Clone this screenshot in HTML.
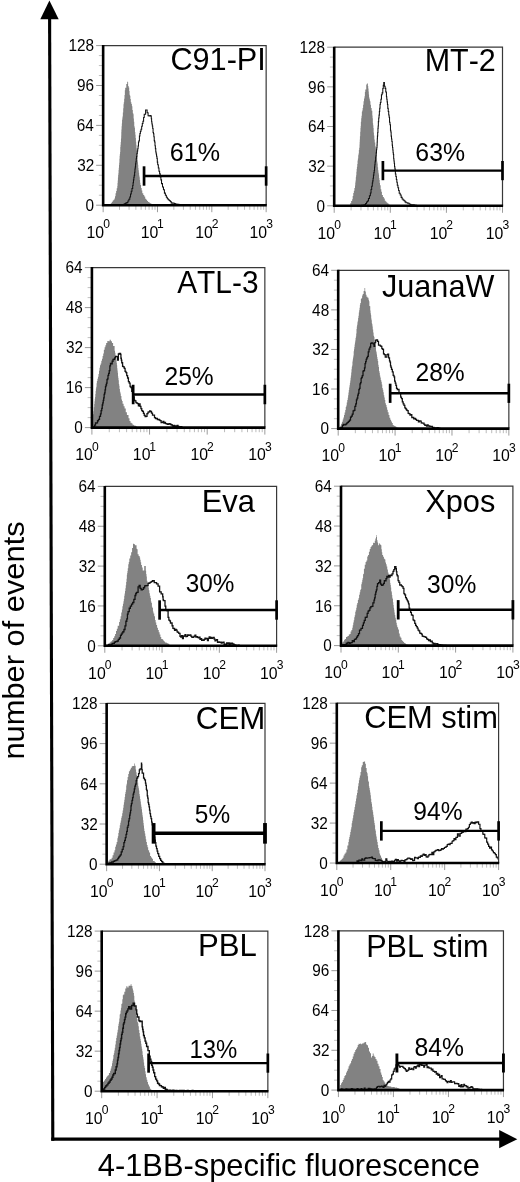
<!DOCTYPE html>
<html><head><meta charset="utf-8"><title>4-1BB flow cytometry</title>
<style>
html,body{margin:0;padding:0;background:#fff;}
body{width:520px;height:1182px;overflow:hidden;font-family:"Liberation Sans",sans-serif;}
svg{display:block;will-change:transform;filter:grayscale(1) blur(0.45px)}
svg text{font-family:"Liberation Sans",sans-serif;font-kerning:none;white-space:pre;}
</style></head><body>
<svg width="520" height="1182" viewBox="0 0 520 1182">
<rect width="520" height="1182" fill="#fff"/>
<g stroke="#000" fill="#000">
<line x1="49.6" y1="17" x2="52.8" y2="1140.8" stroke-width="3.1"/>
<polygon points="49.4,0.6 40.3,19.2 58.7,19.2" stroke="none"/>
<line x1="51.25" y1="1139.15" x2="501" y2="1139.15" stroke-width="3.3"/>
<polygon points="517.3,1139.2 499.2,1130 499.2,1148.2" stroke="none"/>
</g>
<g transform="translate(24,0) rotate(-90)"><text font-size="30" fill="#000" x="-759.55" y="0" textLength="238.16" lengthAdjust="spacingAndGlyphs">number of events</text></g>
<text font-size="31.8" fill="#000" x="97.79" y="1175.6" textLength="382.08" lengthAdjust="spacingAndGlyphs">4-1BB-specific fluorescence</text>
<g>
<path d="M109.6 204.6 L110.4 204.6 L110.4 203.76 L111.2 203.76 L111.2 202.85 L112 202.85 L112 201.74 L112.8 201.74 L112.8 200.39 L113.6 200.39 L113.6 199.74 L114.4 199.74 L114.4 198.55 L114.98 198.55 L114.98 196.21 L115.56 196.21 L115.56 193.14 L116.14 193.14 L116.14 191.02 L116.72 191.02 L116.72 188.23 L117.3 188.23 L117.3 186.06 L117.51 186.06 L117.51 183.05 L117.72 183.05 L117.72 180.54 L117.93 180.54 L117.93 177.6 L118.14 177.6 L118.14 174.91 L118.36 174.91 L118.36 173.14 L118.57 173.14 L118.57 170.07 L118.78 170.07 L118.78 167.67 L118.99 167.67 L118.99 165.01 L119.2 165.01 L119.2 162.65 L119.42 162.65 L119.42 158.64 L119.63 158.64 L119.63 155.72 L119.85 155.72 L119.85 153.93 L120.07 153.93 L120.07 151.91 L120.28 151.91 L120.28 146.9 L120.5 146.9 L120.5 144.63 L120.73 144.63 L120.73 141.99 L120.97 141.99 L120.97 138.45 L121.2 138.45 L121.2 135.43 L121.3 135.43 L121.3 131.97 L121.4 131.97 L121.4 129.38 L121.62 129.38 L121.62 126.14 L121.84 126.14 L121.84 123.56 L122.06 123.56 L122.06 119.96 L122.28 119.96 L122.28 118.51 L122.5 118.51 L122.5 116.56 L122.85 116.56 L122.85 112.42 L123.2 112.42 L123.2 108.34 L123.5 108.34 L123.5 104.31 L123.8 104.31 L123.8 102.23 L124.15 102.23 L124.15 98.86 L124.5 98.86 L124.5 94.98 L124.85 94.98 L124.85 90.25 L125.2 90.25 L125.2 87.81 L126.3 87.81 L126.3 84.11 L127.2 84.11 L127.2 81.78 L128.1 81.78 L128.1 85.95 L128.65 85.95 L128.65 87.58 L129.2 87.58 L129.2 90.95 L129.55 90.95 L129.55 94.83 L129.9 94.83 L129.9 95.83 L130.35 95.83 L130.35 99.08 L130.8 99.08 L130.8 102.31 L131.35 102.31 L131.35 104.07 L131.9 104.07 L131.9 106.14 L132.37 106.14 L132.37 110.12 L132.83 110.12 L132.83 113.24 L133.3 113.24 L133.3 114.14 L133.6 114.14 L133.6 118.47 L133.9 118.47 L133.9 121.72 L134.25 121.72 L134.25 126.2 L134.6 126.2 L134.6 127.76 L134.95 127.76 L134.95 131.99 L135.3 131.99 L135.3 134.69 L135.6 134.69 L135.6 138.11 L135.9 138.11 L135.9 141.82 L136.2 141.82 L136.2 144.75 L136.5 144.75 L136.5 148.36 L136.8 148.36 L136.8 151.58 L137.04 151.58 L137.04 153.77 L137.29 153.77 L137.29 157.52 L137.53 157.52 L137.53 160.33 L137.77 160.33 L137.77 162.23 L138.01 162.23 L138.01 164.66 L138.26 164.66 L138.26 167.93 L138.5 167.93 L138.5 170.16 L138.82 170.16 L138.82 172.63 L139.13 172.63 L139.13 175.43 L139.45 175.43 L139.45 177.35 L139.77 177.35 L139.77 179.94 L140.08 179.94 L140.08 182.83 L140.4 182.83 L140.4 185.01 L141.03 185.01 L141.03 187.94 L141.67 187.94 L141.67 190.57 L142.3 190.57 L142.3 193.23 L143.27 193.23 L143.27 195.11 L144.23 195.11 L144.23 196.52 L145.2 196.52 L145.2 198.74 L146.15 198.74 L146.15 199.83 L147.1 199.83 L147.1 200.96 L148.05 200.96 L148.05 201.93 L149 201.93 L149 202.62 L149.97 202.62 L149.97 203.27 L150.93 203.27 L150.93 203.75 L151.9 203.75 L151.9 204.6 L151.9 205.2 L109.6 205.2 Z" fill="#828282"/>
<path d="M123.08 204.62 L124.04 204.62 L124.04 204.05 L125 204.05 L125 203.47 L125.96 203.47 L125.96 202.86 L126.92 202.86 L126.92 202.6 L127.88 202.6 L127.88 200.98 L128.85 200.98 L128.85 199.2 L129.81 199.2 L129.81 196.98 L130.53 196.98 L130.53 193.98 L131.25 193.98 L131.25 191.22 L131.97 191.22 L131.97 188.47 L132.69 188.47 L132.69 185.52 L133.08 185.52 L133.08 182.79 L133.46 182.79 L133.46 179.89 L133.85 179.89 L133.85 177.17 L134.23 177.17 L134.23 175.39 L134.62 175.39 L134.62 172.28 L134.94 172.28 L134.94 168.97 L135.26 168.97 L135.26 167.08 L135.58 167.08 L135.58 163.86 L135.9 163.86 L135.9 161.73 L136.22 161.73 L136.22 158.83 L136.54 158.83 L136.54 156.62 L136.92 156.62 L136.92 153.54 L137.31 153.54 L137.31 150.98 L137.69 150.98 L137.69 148.66 L138.08 148.66 L138.08 146.04 L138.46 146.04 L138.46 142.07 L138.94 142.07 L138.94 140.82 L139.42 140.82 L139.42 136.07 L139.9 136.07 L139.9 133.52 L140.38 133.52 L140.38 131.18 L141.03 131.18 L141.03 129.24 L141.67 129.24 L141.67 126.32 L142.31 126.32 L142.31 123.46 L142.95 123.46 L142.95 121.26 L143.59 121.26 L143.59 117.43 L144.23 117.43 L144.23 114.16 L145.58 114.16 L145.58 109.96 L147.12 109.96 L147.12 112.75 L148.08 112.75 L148.08 115.68 L149.04 115.68 L149.04 116.02 L150 116.02 L150 115.63 L150.96 115.63 L150.96 116.16 L151.28 116.16 L151.28 118.81 L151.6 118.81 L151.6 121.74 L151.92 121.74 L151.92 124.09 L152.31 124.09 L152.31 126.02 L152.69 126.02 L152.69 128.59 L153.08 128.59 L153.08 132.56 L153.46 132.56 L153.46 133.8 L153.85 133.8 L153.85 136.82 L154.23 136.82 L154.23 140.63 L154.62 140.63 L154.62 141.92 L155 141.92 L155 145.66 L155.38 145.66 L155.38 148.61 L155.77 148.61 L155.77 151.95 L156.15 151.95 L156.15 154.09 L156.54 154.09 L156.54 156.24 L156.92 156.24 L156.92 158.38 L157.31 158.38 L157.31 162.14 L157.69 162.14 L157.69 164.76 L158.33 164.76 L158.33 168.08 L158.97 168.08 L158.97 171.25 L159.62 171.25 L159.62 173.86 L160.26 173.86 L160.26 176.93 L160.9 176.93 L160.9 179.89 L161.54 179.89 L161.54 183.6 L162.5 183.6 L162.5 186.92 L163.46 186.92 L163.46 189.69 L164.42 189.69 L164.42 193.14 L165.38 193.14 L165.38 195.26 L166.35 195.26 L166.35 197.32 L167.31 197.32 L167.31 198.67 L168.27 198.67 L168.27 199.75 L169.23 199.75 L169.23 200.55 L170.19 200.55 L170.19 201.51 L171.15 201.51 L171.15 202.88 L171.98 202.88 L171.98 203.12 L172.8 203.12 L172.8 203.04 L173.63 203.04 L173.63 203.3 L174.45 203.3 L174.45 203.45 L175.27 203.45 L175.27 204.13 L176.1 204.13 L176.1 203.92 L176.92 203.92 L176.92 204.19 L177.88 204.19 L177.88 204.22 L178.85 204.22 L178.85 204.5 L179.81 204.5 L179.81 204.47 L180.77 204.47 L180.77 204.62" fill="none" stroke="#111" stroke-width="1.05"/>
<path d="M103.15 45.6 H266.15 V205.2" fill="none" stroke="#383838" stroke-width="1.2"/>
<line x1="96.15" y1="45.6" x2="103.15" y2="45.6" stroke="#9a9a9a"/>
<line x1="98.85" y1="55.58" x2="103.15" y2="55.58" stroke="#c2c2c2"/>
<line x1="98.85" y1="65.55" x2="103.15" y2="65.55" stroke="#c2c2c2"/>
<line x1="98.85" y1="75.53" x2="103.15" y2="75.53" stroke="#c2c2c2"/>
<line x1="96.15" y1="85.5" x2="103.15" y2="85.5" stroke="#9a9a9a"/>
<line x1="98.85" y1="95.47" x2="103.15" y2="95.47" stroke="#c2c2c2"/>
<line x1="98.85" y1="105.45" x2="103.15" y2="105.45" stroke="#c2c2c2"/>
<line x1="98.85" y1="115.43" x2="103.15" y2="115.43" stroke="#c2c2c2"/>
<line x1="96.15" y1="125.4" x2="103.15" y2="125.4" stroke="#9a9a9a"/>
<line x1="98.85" y1="135.38" x2="103.15" y2="135.38" stroke="#c2c2c2"/>
<line x1="98.85" y1="145.35" x2="103.15" y2="145.35" stroke="#c2c2c2"/>
<line x1="98.85" y1="155.32" x2="103.15" y2="155.32" stroke="#c2c2c2"/>
<line x1="96.15" y1="165.3" x2="103.15" y2="165.3" stroke="#9a9a9a"/>
<line x1="98.85" y1="175.27" x2="103.15" y2="175.27" stroke="#c2c2c2"/>
<line x1="98.85" y1="185.25" x2="103.15" y2="185.25" stroke="#c2c2c2"/>
<line x1="98.85" y1="195.22" x2="103.15" y2="195.22" stroke="#c2c2c2"/>
<line x1="96.15" y1="205.2" x2="103.15" y2="205.2" stroke="#9a9a9a"/>
<line x1="103.15" y1="205.2" x2="103.15" y2="212.2" stroke="#9c9c9c"/>
<line x1="119.51" y1="205.2" x2="119.51" y2="209.8" stroke="#bcbcbc"/>
<line x1="129.07" y1="205.2" x2="129.07" y2="209.8" stroke="#bcbcbc"/>
<line x1="135.86" y1="205.2" x2="135.86" y2="209.8" stroke="#bcbcbc"/>
<line x1="141.13" y1="205.2" x2="141.13" y2="209.8" stroke="#bcbcbc"/>
<line x1="145.43" y1="205.2" x2="145.43" y2="209.8" stroke="#bcbcbc"/>
<line x1="149.07" y1="205.2" x2="149.07" y2="209.8" stroke="#bcbcbc"/>
<line x1="152.22" y1="205.2" x2="152.22" y2="209.8" stroke="#bcbcbc"/>
<line x1="155" y1="205.2" x2="155" y2="209.8" stroke="#bcbcbc"/>
<line x1="157.48" y1="205.2" x2="157.48" y2="212.2" stroke="#9c9c9c"/>
<line x1="173.84" y1="205.2" x2="173.84" y2="209.8" stroke="#bcbcbc"/>
<line x1="183.41" y1="205.2" x2="183.41" y2="209.8" stroke="#bcbcbc"/>
<line x1="190.2" y1="205.2" x2="190.2" y2="209.8" stroke="#bcbcbc"/>
<line x1="195.46" y1="205.2" x2="195.46" y2="209.8" stroke="#bcbcbc"/>
<line x1="199.76" y1="205.2" x2="199.76" y2="209.8" stroke="#bcbcbc"/>
<line x1="203.4" y1="205.2" x2="203.4" y2="209.8" stroke="#bcbcbc"/>
<line x1="206.55" y1="205.2" x2="206.55" y2="209.8" stroke="#bcbcbc"/>
<line x1="209.33" y1="205.2" x2="209.33" y2="209.8" stroke="#bcbcbc"/>
<line x1="211.82" y1="205.2" x2="211.82" y2="212.2" stroke="#9c9c9c"/>
<line x1="228.17" y1="205.2" x2="228.17" y2="209.8" stroke="#bcbcbc"/>
<line x1="237.74" y1="205.2" x2="237.74" y2="209.8" stroke="#bcbcbc"/>
<line x1="244.53" y1="205.2" x2="244.53" y2="209.8" stroke="#bcbcbc"/>
<line x1="249.79" y1="205.2" x2="249.79" y2="209.8" stroke="#bcbcbc"/>
<line x1="254.1" y1="205.2" x2="254.1" y2="209.8" stroke="#bcbcbc"/>
<line x1="257.73" y1="205.2" x2="257.73" y2="209.8" stroke="#bcbcbc"/>
<line x1="260.88" y1="205.2" x2="260.88" y2="209.8" stroke="#bcbcbc"/>
<line x1="263.66" y1="205.2" x2="263.66" y2="209.8" stroke="#bcbcbc"/>
<line x1="266.15" y1="205.2" x2="266.15" y2="212.2" stroke="#9c9c9c"/>
<path d="M103.15 45.1 V205.2 H266.75" fill="none" stroke="#000" stroke-width="2.6"/>
<text font-size="16.5" fill="#000" x="68.51" y="51.35" textLength="25.6" lengthAdjust="spacingAndGlyphs">128</text>
<text font-size="16.5" fill="#000" x="77.06" y="91.25" textLength="17.07" lengthAdjust="spacingAndGlyphs">96</text>
<text font-size="16.5" fill="#000" x="76.83" y="131.15" textLength="17.07" lengthAdjust="spacingAndGlyphs">64</text>
<text font-size="16.5" fill="#000" x="77.15" y="171.05" textLength="17.07" lengthAdjust="spacingAndGlyphs">32</text>
<text font-size="16.5" fill="#000" x="85.52" y="210.95" textLength="8.53" lengthAdjust="spacingAndGlyphs">0</text>
<text font-size="17.2" fill="#000" x="86.47" y="238" textLength="17.6" lengthAdjust="spacingAndGlyphs">10</text>
<text font-size="12.75" fill="#000" x="103.18" y="228.1" textLength="6.74" lengthAdjust="spacingAndGlyphs">0</text>
<text font-size="17.2" fill="#000" x="140.8" y="238" textLength="17.6" lengthAdjust="spacingAndGlyphs">10</text>
<text font-size="12.75" fill="#000" x="157.06" y="228.1" textLength="6.74" lengthAdjust="spacingAndGlyphs">1</text>
<text font-size="17.2" fill="#000" x="195.13" y="238" textLength="17.6" lengthAdjust="spacingAndGlyphs">10</text>
<text font-size="12.75" fill="#000" x="211.71" y="228.1" textLength="6.74" lengthAdjust="spacingAndGlyphs">2</text>
<text font-size="17.2" fill="#000" x="249.47" y="238" textLength="17.6" lengthAdjust="spacingAndGlyphs">10</text>
<text font-size="12.75" fill="#000" x="266.19" y="228.1" textLength="6.74" lengthAdjust="spacingAndGlyphs">3</text>
<g stroke="#000" fill="none">
<line x1="144.05" y1="176" x2="266.15" y2="176" stroke-width="2.4"/>
<line x1="144.05" y1="166.3" x2="144.05" y2="185.7" stroke-width="2.7"/>
<line x1="266.15" y1="166.3" x2="266.15" y2="185.7" stroke-width="2.7"/>
</g>
<text font-size="32" fill="#000" x="170.44" y="70" textLength="95.38" lengthAdjust="spacingAndGlyphs">C91-PI</text>
<text font-size="26" fill="#000" x="169.72" y="160.8" textLength="50.27" lengthAdjust="spacingAndGlyphs">61%</text>
</g>
<g>
<path d="M349.23 205.58 L350.19 205.58 L350.19 203.21 L351.15 203.21 L351.15 201.02 L352.12 201.02 L352.12 199.37 L352.69 199.37 L352.69 196.03 L353.27 196.03 L353.27 193.08 L353.85 193.08 L353.85 190.85 L354.42 190.85 L354.42 188.12 L355 188.12 L355 185.59 L355.27 185.59 L355.27 182.52 L355.55 182.52 L355.55 180.38 L355.82 180.38 L355.82 177.36 L356.1 177.36 L356.1 175.32 L356.37 175.32 L356.37 171.87 L356.65 171.87 L356.65 169.01 L356.92 169.01 L356.92 166.73 L357.25 166.73 L357.25 163.88 L357.57 163.88 L357.57 160.54 L357.9 160.54 L357.9 158.58 L358.22 158.58 L358.22 155.27 L358.54 155.27 L358.54 153.51 L358.87 153.51 L358.87 150.01 L359.19 150.01 L359.19 147.82 L359.52 147.82 L359.52 144.6 L359.65 144.6 L359.65 142.03 L359.78 142.03 L359.78 139.47 L359.92 139.47 L359.92 136.22 L360.19 136.22 L360.19 131.84 L360.46 131.84 L360.46 128.05 L360.66 128.05 L360.66 125.92 L360.86 125.92 L360.86 121.69 L361.2 121.69 L361.2 118.26 L361.53 118.26 L361.53 115.85 L361.87 115.85 L361.87 111.87 L362.21 111.87 L362.21 110.56 L362.66 110.56 L362.66 108.07 L363.1 108.07 L363.1 104.64 L363.55 104.64 L363.55 101.27 L364.02 101.27 L364.02 98.4 L364.5 98.4 L364.5 96.35 L364.9 96.35 L364.9 91.99 L365.3 91.99 L365.3 89.47 L366.24 89.47 L366.24 84.48 L366.92 84.48 L366.92 83.47 L367.86 83.47 L367.86 85.94 L368.2 85.94 L368.2 88.58 L368.53 88.58 L368.53 91.41 L368.8 91.41 L368.8 94.52 L369.07 94.52 L369.07 97.46 L369.48 97.46 L369.48 99.13 L369.88 99.13 L369.88 101.24 L370.42 101.24 L370.42 104.82 L370.96 104.82 L370.96 108.01 L371.63 108.01 L371.63 110.65 L372.3 110.65 L372.3 115.39 L372.57 115.39 L372.57 118.26 L372.84 118.26 L372.84 123.26 L373.11 123.26 L373.11 125.14 L373.38 125.14 L373.38 128.01 L373.65 128.01 L373.65 132.44 L373.92 132.44 L373.92 135.57 L374.32 135.57 L374.32 139.41 L374.72 139.41 L374.72 142.39 L375.26 142.39 L375.26 145.96 L375.56 145.96 L375.56 147.35 L375.85 147.35 L375.85 150.5 L376.14 150.5 L376.14 152.87 L376.44 152.87 L376.44 155.55 L376.73 155.55 L376.73 157.74 L377.07 157.74 L377.07 161.62 L377.4 161.62 L377.4 163.56 L377.74 163.56 L377.74 167.27 L378.08 167.27 L378.08 170.18 L378.4 170.18 L378.4 172.72 L378.72 172.72 L378.72 174.57 L379.04 174.57 L379.04 177.98 L379.36 177.98 L379.36 180.03 L379.68 180.03 L379.68 182.95 L380 182.95 L380 185.28 L380.64 185.28 L380.64 189.16 L381.28 189.16 L381.28 191.65 L381.92 191.65 L381.92 194.95 L382.88 194.95 L382.88 197 L383.85 197 L383.85 198.5 L384.81 198.5 L384.81 200.67 L385.77 200.67 L385.77 201.69 L386.73 201.69 L386.73 202.75 L387.69 202.75 L387.69 203.58 L388.65 203.58 L388.65 204.51 L389.62 204.51 L389.62 204.92 L390.58 204.92 L390.58 205.23 L391.54 205.23 L391.54 205.58 L391.54 205.8 L349.23 205.8 Z" fill="#828282"/>
<path d="M360.77 205.58 L361.73 205.58 L361.73 205.34 L362.69 205.34 L362.69 205.17 L363.65 205.17 L363.65 205.13 L364.62 205.13 L364.62 204.89 L365.58 204.89 L365.58 203.48 L366.54 203.48 L366.54 201.94 L367.5 201.94 L367.5 201.04 L368.46 201.04 L368.46 198.4 L369.42 198.4 L369.42 195.67 L370.38 195.67 L370.38 193.05 L371.03 193.05 L371.03 189.5 L371.67 189.5 L371.67 186.23 L372.31 186.23 L372.31 183.07 L372.69 183.07 L372.69 180.88 L373.08 180.88 L373.08 178.16 L373.46 178.16 L373.46 175.14 L373.85 175.14 L373.85 172.61 L374.23 172.61 L374.23 170.55 L374.51 170.55 L374.51 167.04 L374.79 167.04 L374.79 164.84 L375.07 164.84 L375.07 162 L375.34 162 L375.34 160.86 L375.62 160.86 L375.62 157.34 L375.9 157.34 L375.9 155.66 L376.18 155.66 L376.18 152.86 L376.46 152.86 L376.46 149.69 L376.73 149.69 L376.73 147.81 L377.01 147.81 L377.01 145.11 L377.15 145.11 L377.15 142.12 L377.28 142.12 L377.28 138.83 L377.42 138.83 L377.42 135.93 L377.69 135.93 L377.69 132.56 L377.95 132.56 L377.95 128.4 L378.16 128.4 L378.16 125.95 L378.36 125.95 L378.36 121.63 L378.69 121.63 L378.69 117.92 L379.03 117.92 L379.03 115.14 L379.37 115.14 L379.37 111.42 L379.7 111.42 L379.7 108.2 L380.04 108.2 L380.04 104.52 L380.38 104.52 L380.38 102.55 L380.92 102.55 L380.92 99.22 L381.45 99.22 L381.45 94.72 L382.13 94.72 L382.13 92.87 L382.8 92.87 L382.8 88.4 L383.27 88.4 L383.27 85.31 L383.74 85.31 L383.74 82.52 L384.41 82.52 L384.41 86.25 L385.09 86.25 L385.09 88.39 L385.76 88.39 L385.76 92.04 L386.43 92.04 L386.43 96.79 L386.77 96.79 L386.77 99.26 L387.11 99.26 L387.11 101.87 L387.44 101.87 L387.44 104.53 L387.78 104.53 L387.78 108.38 L388.25 108.38 L388.25 111.55 L388.72 111.55 L388.72 114.98 L389.13 114.98 L389.13 117.23 L389.53 117.23 L389.53 122.21 L390 122.21 L390 124.81 L390.47 124.81 L390.47 130.15 L390.81 130.15 L390.81 132.07 L391.14 132.07 L391.14 136.1 L391.5 136.1 L391.5 138.9 L391.86 138.9 L391.86 141.45 L392.22 141.45 L392.22 145.11 L392.51 145.11 L392.51 147.41 L392.8 147.41 L392.8 150.06 L393.08 150.06 L393.08 152.84 L393.37 152.84 L393.37 154.59 L393.66 154.59 L393.66 158.73 L393.95 158.73 L393.95 160.97 L394.23 160.97 L394.23 163.29 L394.52 163.29 L394.52 166.54 L394.81 166.54 L394.81 168.22 L395.1 168.22 L395.1 170.27 L395.38 170.27 L395.38 173.94 L395.87 173.94 L395.87 176.43 L396.35 176.43 L396.35 179.59 L396.83 179.59 L396.83 182.32 L397.31 182.32 L397.31 185.31 L397.95 185.31 L397.95 187.66 L398.59 187.66 L398.59 190.49 L399.23 190.49 L399.23 193.27 L400.19 193.27 L400.19 195.09 L401.15 195.09 L401.15 197.35 L402.12 197.35 L402.12 198.99 L403.08 198.99 L403.08 199.9 L404.04 199.9 L404.04 200.82 L405 200.82 L405 201.85 L405.96 201.85 L405.96 202.66 L406.76 202.66 L406.76 202.73 L407.56 202.73 L407.56 203.1 L408.37 203.1 L408.37 203.26 L409.17 203.26 L409.17 203.92 L409.97 203.92 L409.97 204.31 L410.77 204.31 L410.77 204.68 L411.59 204.68 L411.59 204.91 L412.42 204.91 L412.42 204.83 L413.24 204.83 L413.24 204.79 L414.07 204.79 L414.07 205.1 L414.89 205.1 L414.89 205.3 L415.71 205.3 L415.71 205.31 L416.54 205.31 L416.54 205.58" fill="none" stroke="#111" stroke-width="1.05"/>
<path d="M334.2 47.2 H502.5 V205.8" fill="none" stroke="#383838" stroke-width="1.2"/>
<line x1="327.2" y1="47.2" x2="334.2" y2="47.2" stroke="#9a9a9a"/>
<line x1="329.9" y1="57.11" x2="334.2" y2="57.11" stroke="#c2c2c2"/>
<line x1="329.9" y1="67.03" x2="334.2" y2="67.03" stroke="#c2c2c2"/>
<line x1="329.9" y1="76.94" x2="334.2" y2="76.94" stroke="#c2c2c2"/>
<line x1="327.2" y1="86.85" x2="334.2" y2="86.85" stroke="#9a9a9a"/>
<line x1="329.9" y1="96.76" x2="334.2" y2="96.76" stroke="#c2c2c2"/>
<line x1="329.9" y1="106.68" x2="334.2" y2="106.68" stroke="#c2c2c2"/>
<line x1="329.9" y1="116.59" x2="334.2" y2="116.59" stroke="#c2c2c2"/>
<line x1="327.2" y1="126.5" x2="334.2" y2="126.5" stroke="#9a9a9a"/>
<line x1="329.9" y1="136.41" x2="334.2" y2="136.41" stroke="#c2c2c2"/>
<line x1="329.9" y1="146.33" x2="334.2" y2="146.33" stroke="#c2c2c2"/>
<line x1="329.9" y1="156.24" x2="334.2" y2="156.24" stroke="#c2c2c2"/>
<line x1="327.2" y1="166.15" x2="334.2" y2="166.15" stroke="#9a9a9a"/>
<line x1="329.9" y1="176.06" x2="334.2" y2="176.06" stroke="#c2c2c2"/>
<line x1="329.9" y1="185.98" x2="334.2" y2="185.98" stroke="#c2c2c2"/>
<line x1="329.9" y1="195.89" x2="334.2" y2="195.89" stroke="#c2c2c2"/>
<line x1="327.2" y1="205.8" x2="334.2" y2="205.8" stroke="#9a9a9a"/>
<line x1="334.2" y1="205.8" x2="334.2" y2="212.8" stroke="#9c9c9c"/>
<line x1="351.09" y1="205.8" x2="351.09" y2="210.4" stroke="#bcbcbc"/>
<line x1="360.97" y1="205.8" x2="360.97" y2="210.4" stroke="#bcbcbc"/>
<line x1="367.98" y1="205.8" x2="367.98" y2="210.4" stroke="#bcbcbc"/>
<line x1="373.41" y1="205.8" x2="373.41" y2="210.4" stroke="#bcbcbc"/>
<line x1="377.85" y1="205.8" x2="377.85" y2="210.4" stroke="#bcbcbc"/>
<line x1="381.61" y1="205.8" x2="381.61" y2="210.4" stroke="#bcbcbc"/>
<line x1="384.86" y1="205.8" x2="384.86" y2="210.4" stroke="#bcbcbc"/>
<line x1="387.73" y1="205.8" x2="387.73" y2="210.4" stroke="#bcbcbc"/>
<line x1="390.3" y1="205.8" x2="390.3" y2="212.8" stroke="#9c9c9c"/>
<line x1="407.19" y1="205.8" x2="407.19" y2="210.4" stroke="#bcbcbc"/>
<line x1="417.07" y1="205.8" x2="417.07" y2="210.4" stroke="#bcbcbc"/>
<line x1="424.08" y1="205.8" x2="424.08" y2="210.4" stroke="#bcbcbc"/>
<line x1="429.51" y1="205.8" x2="429.51" y2="210.4" stroke="#bcbcbc"/>
<line x1="433.95" y1="205.8" x2="433.95" y2="210.4" stroke="#bcbcbc"/>
<line x1="437.71" y1="205.8" x2="437.71" y2="210.4" stroke="#bcbcbc"/>
<line x1="440.96" y1="205.8" x2="440.96" y2="210.4" stroke="#bcbcbc"/>
<line x1="443.83" y1="205.8" x2="443.83" y2="210.4" stroke="#bcbcbc"/>
<line x1="446.4" y1="205.8" x2="446.4" y2="212.8" stroke="#9c9c9c"/>
<line x1="463.29" y1="205.8" x2="463.29" y2="210.4" stroke="#bcbcbc"/>
<line x1="473.17" y1="205.8" x2="473.17" y2="210.4" stroke="#bcbcbc"/>
<line x1="480.18" y1="205.8" x2="480.18" y2="210.4" stroke="#bcbcbc"/>
<line x1="485.61" y1="205.8" x2="485.61" y2="210.4" stroke="#bcbcbc"/>
<line x1="490.05" y1="205.8" x2="490.05" y2="210.4" stroke="#bcbcbc"/>
<line x1="493.81" y1="205.8" x2="493.81" y2="210.4" stroke="#bcbcbc"/>
<line x1="497.06" y1="205.8" x2="497.06" y2="210.4" stroke="#bcbcbc"/>
<line x1="499.93" y1="205.8" x2="499.93" y2="210.4" stroke="#bcbcbc"/>
<line x1="502.5" y1="205.8" x2="502.5" y2="212.8" stroke="#9c9c9c"/>
<path d="M334.2 46.7 V205.8 H503.1" fill="none" stroke="#000" stroke-width="2.6"/>
<text font-size="16.5" fill="#000" x="299.56" y="52.95" textLength="25.6" lengthAdjust="spacingAndGlyphs">128</text>
<text font-size="16.5" fill="#000" x="308.11" y="92.6" textLength="17.07" lengthAdjust="spacingAndGlyphs">96</text>
<text font-size="16.5" fill="#000" x="307.88" y="132.25" textLength="17.07" lengthAdjust="spacingAndGlyphs">64</text>
<text font-size="16.5" fill="#000" x="308.2" y="171.9" textLength="17.07" lengthAdjust="spacingAndGlyphs">32</text>
<text font-size="16.5" fill="#000" x="316.57" y="211.55" textLength="8.53" lengthAdjust="spacingAndGlyphs">0</text>
<text font-size="17.2" fill="#000" x="317.52" y="238.6" textLength="17.6" lengthAdjust="spacingAndGlyphs">10</text>
<text font-size="12.75" fill="#000" x="334.23" y="228.7" textLength="6.74" lengthAdjust="spacingAndGlyphs">0</text>
<text font-size="17.2" fill="#000" x="373.62" y="238.6" textLength="17.6" lengthAdjust="spacingAndGlyphs">10</text>
<text font-size="12.75" fill="#000" x="389.88" y="228.7" textLength="6.74" lengthAdjust="spacingAndGlyphs">1</text>
<text font-size="17.2" fill="#000" x="429.72" y="238.6" textLength="17.6" lengthAdjust="spacingAndGlyphs">10</text>
<text font-size="12.75" fill="#000" x="446.29" y="228.7" textLength="6.74" lengthAdjust="spacingAndGlyphs">2</text>
<text font-size="17.2" fill="#000" x="485.82" y="238.6" textLength="17.6" lengthAdjust="spacingAndGlyphs">10</text>
<text font-size="12.75" fill="#000" x="502.54" y="228.7" textLength="6.74" lengthAdjust="spacingAndGlyphs">3</text>
<g stroke="#000" fill="none">
<line x1="382.9" y1="170.6" x2="502.5" y2="170.6" stroke-width="2.4"/>
<line x1="382.9" y1="161" x2="382.9" y2="180.2" stroke-width="2.7"/>
<line x1="502.5" y1="161" x2="502.5" y2="180.2" stroke-width="2.7"/>
</g>
<text font-size="32" fill="#000" x="424.7" y="71.2" textLength="71.13" lengthAdjust="spacingAndGlyphs">MT-2</text>
<text font-size="26" fill="#000" x="415.34" y="160.7" textLength="49.75" lengthAdjust="spacingAndGlyphs">63%</text>
</g>
<g>
<path d="M92 422 L92.4 422 L92.4 419.2 L92.7 419.2 L92.7 416.78 L93 416.78 L93 414.2 L93.4 414.2 L93.4 411.13 L93.8 411.13 L93.8 407.24 L94.2 407.24 L94.2 404 L94.48 404 L94.48 401.32 L94.77 401.32 L94.77 398.77 L95.05 398.77 L95.05 396.92 L95.33 396.92 L95.33 394.05 L95.62 394.05 L95.62 391.03 L95.9 391.03 L95.9 388.47 L96.23 388.47 L96.23 386.75 L96.57 386.75 L96.57 383.26 L96.9 383.26 L96.9 380.98 L97.43 380.98 L97.43 378.86 L97.97 378.86 L97.97 376.65 L98.5 376.65 L98.5 374.12 L99 374.12 L99 370.69 L99.5 370.69 L99.5 367.73 L100 367.73 L100 365.24 L100.67 365.24 L100.67 363.45 L101.33 363.45 L101.33 360.78 L102 360.78 L102 358.76 L102.62 358.76 L102.62 356.01 L103.23 356.01 L103.23 353.6 L103.85 353.6 L103.85 349.8 L104.62 349.8 L104.62 347.18 L105.38 347.18 L105.38 345.27 L106.15 345.27 L106.15 342.97 L107.33 342.97 L107.33 341.07 L108.5 341.07 L108.5 341.24 L109.65 341.24 L109.65 339.75 L110.8 339.75 L110.8 341.13 L111.95 341.13 L111.95 342.93 L113.1 342.93 L113.1 346.06 L114.6 346.06 L114.6 350.7 L115.02 350.7 L115.02 352.78 L115.43 352.78 L115.43 355.73 L115.85 355.73 L115.85 358.8 L116.2 358.8 L116.2 360.28 L116.55 360.28 L116.55 362.82 L116.9 362.82 L116.9 365.29 L117.17 365.29 L117.17 368.18 L117.43 368.18 L117.43 370.44 L117.7 370.44 L117.7 372.64 L117.97 372.64 L117.97 376.36 L118.23 376.36 L118.23 378.07 L118.5 378.07 L118.5 380.17 L118.83 380.17 L118.83 383.92 L119.17 383.92 L119.17 385.73 L119.5 385.73 L119.5 388.98 L119.93 388.98 L119.93 391.76 L120.37 391.76 L120.37 393.52 L120.8 393.52 L120.8 396.05 L121.4 396.05 L121.4 399.42 L122 399.42 L122 401.04 L122.6 401.04 L122.6 403.79 L123.6 403.79 L123.6 406.26 L124.6 406.26 L124.6 408.6 L125.75 408.6 L125.75 412.26 L126.9 412.26 L126.9 414.95 L128.5 414.95 L128.5 418.29 L129.5 418.29 L129.5 420.95 L130.5 420.95 L130.5 422.63 L131.44 422.63 L131.44 423.2 L132.38 423.2 L132.38 424.39 L133.31 424.39 L133.31 424.94 L134.25 424.94 L134.25 425.65 L135.19 425.65 L135.19 425.87 L136.12 425.87 L136.12 426.49 L137.06 426.49 L137.06 427.14 L138 427.14 L138 427.5 L138 427.6 L92 427.6 Z" fill="#828282"/>
<path d="M92 427.5 L93 427.5 L93 427.17 L94.5 427.17 L94.5 425.09 L95.5 425.09 L95.5 423.01 L96.5 423.01 L96.5 422.8 L97.5 422.8 L97.5 420.74 L98.5 420.74 L98.5 419.41 L99.5 419.41 L99.5 416.47 L100.5 416.47 L100.5 413.85 L101.12 413.85 L101.12 410.66 L101.75 410.66 L101.75 408.28 L102.25 408.28 L102.25 405.02 L102.75 405.02 L102.75 402.93 L103.25 402.93 L103.25 400.31 L103.7 400.31 L103.7 397.79 L104.15 397.79 L104.15 394.42 L104.6 394.42 L104.6 392.84 L105.05 392.84 L105.05 389.89 L105.5 389.89 L105.5 386.68 L106 386.68 L106 385.02 L106.5 385.02 L106.5 383.03 L107 383.03 L107 379.6 L107.5 379.6 L107.5 378.84 L108 378.84 L108 375.29 L108.62 375.29 L108.62 373.43 L109.25 373.43 L109.25 370.58 L109.88 370.58 L109.88 365.91 L110.5 365.91 L110.5 363.4 L111.33 363.4 L111.33 363.75 L112.17 363.75 L112.17 361.25 L113 361.25 L113 359.48 L113.83 359.48 L113.83 359.23 L114.67 359.23 L114.67 357.82 L115.5 357.82 L115.5 356.49 L116.5 356.49 L116.5 356.59 L117.5 356.59 L117.5 360.04 L118.38 360.04 L118.38 354.02 L119.25 354.02 L119.25 353.46 L120.5 353.46 L120.5 354.47 L120.92 354.47 L120.92 358.26 L121.33 358.26 L121.33 360.04 L121.75 360.04 L121.75 362.76 L122.58 362.76 L122.58 366.3 L123.42 366.3 L123.42 366.9 L124.25 366.9 L124.25 368.4 L125.08 368.4 L125.08 371.46 L125.92 371.46 L125.92 372.57 L126.75 372.57 L126.75 375.62 L127.58 375.62 L127.58 378.02 L128.42 378.02 L128.42 381.6 L129.25 381.6 L129.25 383.19 L130.08 383.19 L130.08 386.48 L130.92 386.48 L130.92 387.49 L131.75 387.49 L131.75 391.43 L132.58 391.43 L132.58 393.55 L133.42 393.55 L133.42 396.95 L134.25 396.95 L134.25 400.35 L135.08 400.35 L135.08 400.92 L135.92 400.92 L135.92 402.7 L136.75 402.7 L136.75 403.09 L137.58 403.09 L137.58 403.68 L138.42 403.68 L138.42 405.88 L139.25 405.88 L139.25 403.78 L140.08 403.78 L140.08 406.46 L140.92 406.46 L140.92 408.65 L141.75 408.65 L141.75 410.65 L142.58 410.65 L142.58 411.28 L143.42 411.28 L143.42 413.34 L144.25 413.34 L144.25 415.36 L145.12 415.36 L145.12 416.5 L146 416.5 L146 416.3 L147 416.3 L147 413.58 L148 413.58 L148 412.1 L148.83 412.1 L148.83 411.95 L149.67 411.95 L149.67 410.89 L150.5 410.89 L150.5 411.49 L151.5 411.49 L151.5 413.05 L152.5 413.05 L152.5 415.06 L153.5 415.06 L153.5 415.15 L154.5 415.15 L154.5 417.66 L155.5 417.66 L155.5 418.71 L156.44 418.71 L156.44 418.37 L157.38 418.37 L157.38 419.59 L158.31 419.59 L158.31 419.48 L159.25 419.48 L159.25 420.08 L160.19 420.08 L160.19 420.68 L161.12 420.68 L161.12 422.6 L162.06 422.6 L162.06 422.33 L163 422.33 L163 421.32 L163.83 421.32 L163.83 423.06 L164.67 423.06 L164.67 422.38 L165.5 422.38 L165.5 423.72 L166.33 423.72 L166.33 423.63 L167.17 423.63 L167.17 424.28 L168 424.28 L168 424.38 L168.83 424.38 L168.83 423.71 L169.67 423.71 L169.67 423.83 L170.5 423.83 L170.5 424.51 L171.33 424.51 L171.33 424.77 L172.17 424.77 L172.17 425.54 L173 425.54 L173 426.52 L173.83 426.52 L173.83 425.38 L174.67 425.38 L174.67 426.67 L175.5 426.67 L175.5 425.99 L176.33 425.99 L176.33 426.25 L177.17 426.25 L177.17 425.52 L178 425.52 L178 426.33 L178.83 426.33 L178.83 426.77 L179.67 426.77 L179.67 426.61 L180.5 426.61 L180.5 426.67 L181.33 426.67 L181.33 427.1 L182.17 427.1 L182.17 427.51 L183 427.51 L183 427.5" fill="none" stroke="#111" stroke-width="1.3"/>
<path d="M91.9 267.6 H264.85 V427.6" fill="none" stroke="#383838" stroke-width="1.2"/>
<line x1="84.9" y1="267.6" x2="91.9" y2="267.6" stroke="#9a9a9a"/>
<line x1="87.6" y1="277.6" x2="91.9" y2="277.6" stroke="#c2c2c2"/>
<line x1="87.6" y1="287.6" x2="91.9" y2="287.6" stroke="#c2c2c2"/>
<line x1="87.6" y1="297.6" x2="91.9" y2="297.6" stroke="#c2c2c2"/>
<line x1="84.9" y1="307.6" x2="91.9" y2="307.6" stroke="#9a9a9a"/>
<line x1="87.6" y1="317.6" x2="91.9" y2="317.6" stroke="#c2c2c2"/>
<line x1="87.6" y1="327.6" x2="91.9" y2="327.6" stroke="#c2c2c2"/>
<line x1="87.6" y1="337.6" x2="91.9" y2="337.6" stroke="#c2c2c2"/>
<line x1="84.9" y1="347.6" x2="91.9" y2="347.6" stroke="#9a9a9a"/>
<line x1="87.6" y1="357.6" x2="91.9" y2="357.6" stroke="#c2c2c2"/>
<line x1="87.6" y1="367.6" x2="91.9" y2="367.6" stroke="#c2c2c2"/>
<line x1="87.6" y1="377.6" x2="91.9" y2="377.6" stroke="#c2c2c2"/>
<line x1="84.9" y1="387.6" x2="91.9" y2="387.6" stroke="#9a9a9a"/>
<line x1="87.6" y1="397.6" x2="91.9" y2="397.6" stroke="#c2c2c2"/>
<line x1="87.6" y1="407.6" x2="91.9" y2="407.6" stroke="#c2c2c2"/>
<line x1="87.6" y1="417.6" x2="91.9" y2="417.6" stroke="#c2c2c2"/>
<line x1="84.9" y1="427.6" x2="91.9" y2="427.6" stroke="#9a9a9a"/>
<line x1="91.9" y1="427.6" x2="91.9" y2="434.6" stroke="#9c9c9c"/>
<line x1="109.25" y1="427.6" x2="109.25" y2="432.2" stroke="#bcbcbc"/>
<line x1="119.41" y1="427.6" x2="119.41" y2="432.2" stroke="#bcbcbc"/>
<line x1="126.61" y1="427.6" x2="126.61" y2="432.2" stroke="#bcbcbc"/>
<line x1="132.2" y1="427.6" x2="132.2" y2="432.2" stroke="#bcbcbc"/>
<line x1="136.76" y1="427.6" x2="136.76" y2="432.2" stroke="#bcbcbc"/>
<line x1="140.62" y1="427.6" x2="140.62" y2="432.2" stroke="#bcbcbc"/>
<line x1="143.96" y1="427.6" x2="143.96" y2="432.2" stroke="#bcbcbc"/>
<line x1="146.91" y1="427.6" x2="146.91" y2="432.2" stroke="#bcbcbc"/>
<line x1="149.55" y1="427.6" x2="149.55" y2="434.6" stroke="#9c9c9c"/>
<line x1="166.9" y1="427.6" x2="166.9" y2="432.2" stroke="#bcbcbc"/>
<line x1="177.06" y1="427.6" x2="177.06" y2="432.2" stroke="#bcbcbc"/>
<line x1="184.26" y1="427.6" x2="184.26" y2="432.2" stroke="#bcbcbc"/>
<line x1="189.85" y1="427.6" x2="189.85" y2="432.2" stroke="#bcbcbc"/>
<line x1="194.41" y1="427.6" x2="194.41" y2="432.2" stroke="#bcbcbc"/>
<line x1="198.27" y1="427.6" x2="198.27" y2="432.2" stroke="#bcbcbc"/>
<line x1="201.61" y1="427.6" x2="201.61" y2="432.2" stroke="#bcbcbc"/>
<line x1="204.56" y1="427.6" x2="204.56" y2="432.2" stroke="#bcbcbc"/>
<line x1="207.2" y1="427.6" x2="207.2" y2="434.6" stroke="#9c9c9c"/>
<line x1="224.55" y1="427.6" x2="224.55" y2="432.2" stroke="#bcbcbc"/>
<line x1="234.71" y1="427.6" x2="234.71" y2="432.2" stroke="#bcbcbc"/>
<line x1="241.91" y1="427.6" x2="241.91" y2="432.2" stroke="#bcbcbc"/>
<line x1="247.5" y1="427.6" x2="247.5" y2="432.2" stroke="#bcbcbc"/>
<line x1="252.06" y1="427.6" x2="252.06" y2="432.2" stroke="#bcbcbc"/>
<line x1="255.92" y1="427.6" x2="255.92" y2="432.2" stroke="#bcbcbc"/>
<line x1="259.26" y1="427.6" x2="259.26" y2="432.2" stroke="#bcbcbc"/>
<line x1="262.21" y1="427.6" x2="262.21" y2="432.2" stroke="#bcbcbc"/>
<line x1="264.85" y1="427.6" x2="264.85" y2="434.6" stroke="#9c9c9c"/>
<path d="M91.9 267.1 V427.6 H265.45" fill="none" stroke="#000" stroke-width="2.6"/>
<text font-size="16.5" fill="#000" x="65.58" y="273.35" textLength="17.07" lengthAdjust="spacingAndGlyphs">64</text>
<text font-size="16.5" fill="#000" x="65.8" y="313.35" textLength="17.07" lengthAdjust="spacingAndGlyphs">48</text>
<text font-size="16.5" fill="#000" x="65.9" y="353.35" textLength="17.07" lengthAdjust="spacingAndGlyphs">32</text>
<text font-size="16.5" fill="#000" x="65.81" y="393.35" textLength="17.07" lengthAdjust="spacingAndGlyphs">16</text>
<text font-size="16.5" fill="#000" x="74.27" y="433.35" textLength="8.53" lengthAdjust="spacingAndGlyphs">0</text>
<text font-size="17.2" fill="#000" x="75.22" y="460.4" textLength="17.6" lengthAdjust="spacingAndGlyphs">10</text>
<text font-size="12.75" fill="#000" x="91.93" y="450.5" textLength="6.74" lengthAdjust="spacingAndGlyphs">0</text>
<text font-size="17.2" fill="#000" x="132.87" y="460.4" textLength="17.6" lengthAdjust="spacingAndGlyphs">10</text>
<text font-size="12.75" fill="#000" x="149.13" y="450.5" textLength="6.74" lengthAdjust="spacingAndGlyphs">1</text>
<text font-size="17.2" fill="#000" x="190.52" y="460.4" textLength="17.6" lengthAdjust="spacingAndGlyphs">10</text>
<text font-size="12.75" fill="#000" x="207.09" y="450.5" textLength="6.74" lengthAdjust="spacingAndGlyphs">2</text>
<text font-size="17.2" fill="#000" x="248.17" y="460.4" textLength="17.6" lengthAdjust="spacingAndGlyphs">10</text>
<text font-size="12.75" fill="#000" x="264.89" y="450.5" textLength="6.74" lengthAdjust="spacingAndGlyphs">3</text>
<g stroke="#000" fill="none">
<line x1="133.15" y1="394.5" x2="264.85" y2="394.5" stroke-width="2.4"/>
<line x1="133.15" y1="384.75" x2="133.15" y2="404.25" stroke-width="2.7"/>
<line x1="264.85" y1="384.75" x2="264.85" y2="404.25" stroke-width="2.7"/>
</g>
<text font-size="32" fill="#000" x="177.14" y="293" textLength="81.37" lengthAdjust="spacingAndGlyphs">ATL-3</text>
<text font-size="26" fill="#000" x="164.46" y="384.6" textLength="49.21" lengthAdjust="spacingAndGlyphs">25%</text>
</g>
<g>
<path d="M339.5 427.5 L340.31 427.5 L340.31 425.86 L341.12 425.86 L341.12 423.72 L341.94 423.72 L341.94 421.8 L342.75 421.8 L342.75 419.61 L343.38 419.61 L343.38 417.52 L344 417.52 L344 415.11 L344.62 415.11 L344.62 412.39 L345.25 412.39 L345.25 409.91 L345.75 409.91 L345.75 407.03 L346.25 407.03 L346.25 405.45 L346.75 405.45 L346.75 402.62 L347.25 402.62 L347.25 399.88 L347.75 399.88 L347.75 397.72 L348.11 397.72 L348.11 395.13 L348.46 395.13 L348.46 392.54 L348.82 392.54 L348.82 389.92 L349.18 389.92 L349.18 387.53 L349.54 387.53 L349.54 385.2 L349.89 385.2 L349.89 382.86 L350.25 382.86 L350.25 380.39 L350.56 380.39 L350.56 377.69 L350.88 377.69 L350.88 375.44 L351.19 375.44 L351.19 372.42 L351.5 372.42 L351.5 369.21 L351.81 369.21 L351.81 366.74 L352.12 366.74 L352.12 365.46 L352.44 365.46 L352.44 361.61 L352.75 361.61 L352.75 359.55 L353.06 359.55 L353.06 357.5 L353.38 357.5 L353.38 355.55 L353.69 355.55 L353.69 351.27 L354 351.27 L354 349.31 L354.31 349.31 L354.31 346.99 L354.62 346.99 L354.62 344.53 L354.94 344.53 L354.94 342.5 L355.25 342.5 L355.25 340.52 L355.56 340.52 L355.56 337.91 L355.88 337.91 L355.88 336.6 L356.19 336.6 L356.19 333.59 L356.5 333.59 L356.5 329.04 L356.81 329.04 L356.81 326.41 L357.12 326.41 L357.12 324.8 L357.44 324.8 L357.44 322.26 L357.75 322.26 L357.75 320.82 L358.11 320.82 L358.11 317.98 L358.46 317.98 L358.46 315.64 L358.82 315.64 L358.82 312.49 L359.18 312.49 L359.18 310.36 L359.54 310.36 L359.54 307.82 L359.89 307.82 L359.89 304.82 L360.25 304.82 L360.25 303 L360.88 303 L360.88 298.79 L361.5 298.79 L361.5 298.33 L362.12 298.33 L362.12 295.54 L362.75 295.54 L362.75 294.1 L363.62 294.1 L363.62 290.93 L364.5 290.93 L364.5 288.08 L365.17 288.08 L365.17 291.58 L365.83 291.58 L365.83 294.65 L366.5 294.65 L366.5 296.81 L367.5 296.81 L367.5 297.66 L368.5 297.66 L368.5 299.65 L368.94 299.65 L368.94 301.29 L369.38 301.29 L369.38 305.93 L369.81 305.93 L369.81 306.24 L370.25 306.24 L370.25 310.45 L370.56 310.45 L370.56 313.28 L370.88 313.28 L370.88 315.33 L371.19 315.33 L371.19 318.55 L371.5 318.55 L371.5 320.3 L371.81 320.3 L371.81 323.14 L372.12 323.14 L372.12 324.35 L372.44 324.35 L372.44 326.6 L372.75 326.6 L372.75 329.61 L373.17 329.61 L373.17 332.59 L373.58 332.59 L373.58 335.65 L374 335.65 L374 336.67 L374.42 336.67 L374.42 339.56 L374.83 339.56 L374.83 341.98 L375.25 341.98 L375.25 345.48 L375.61 345.48 L375.61 347.13 L375.96 347.13 L375.96 350.66 L376.32 350.66 L376.32 352.27 L376.68 352.27 L376.68 354.55 L377.04 354.55 L377.04 357.07 L377.39 357.07 L377.39 359.03 L377.75 359.03 L377.75 361.05 L378.17 361.05 L378.17 364.67 L378.58 364.67 L378.58 367.09 L379 367.09 L379 371.03 L379.42 371.03 L379.42 372.69 L379.83 372.69 L379.83 375.4 L380.25 375.4 L380.25 377.55 L380.75 377.55 L380.75 379.9 L381.25 379.9 L381.25 381.84 L381.75 381.84 L381.75 384.44 L382.25 384.44 L382.25 388.08 L382.75 388.08 L382.75 389.79 L383.25 389.79 L383.25 392.31 L383.75 392.31 L383.75 395.27 L384.25 395.27 L384.25 397.41 L384.75 397.41 L384.75 399.91 L385.25 399.91 L385.25 403.17 L385.88 403.17 L385.88 405.12 L386.5 405.12 L386.5 407.37 L387.12 407.37 L387.12 409.87 L387.75 409.87 L387.75 412.29 L388.58 412.29 L388.58 415.1 L389.42 415.1 L389.42 417.64 L390.25 417.64 L390.25 419.85 L391.08 419.85 L391.08 421.6 L391.92 421.6 L391.92 422.96 L392.75 422.96 L392.75 424.93 L393.69 424.93 L393.69 425.77 L394.62 425.77 L394.62 426.04 L395.56 426.04 L395.56 426.85 L396.5 426.85 L396.5 427.39 L397.44 427.39 L397.44 427.76 L398.38 427.76 L398.38 428.15 L399.31 428.15 L399.31 428.39 L400.25 428.39 L400.25 428.6 L400.25 428.6 L339.5 428.6 Z" fill="#828282"/>
<path d="M338.5 428.5 L339.5 428.5 L339.5 428.31 L340.5 428.31 L340.5 427.95 L341.5 427.95 L341.5 427.4 L342.5 427.4 L342.5 425.43 L343.31 425.43 L343.31 424.37 L344.12 424.37 L344.12 424.76 L344.94 424.76 L344.94 424.76 L345.75 424.76 L345.75 424.22 L346.67 424.22 L346.67 423.21 L347.58 423.21 L347.58 422.43 L348.5 422.43 L348.5 421.26 L349.5 421.26 L349.5 420.16 L350.5 420.16 L350.5 417.05 L351.38 417.05 L351.38 416.11 L352.25 416.11 L352.25 414.09 L353.12 414.09 L353.12 410.84 L354 410.84 L354 410.35 L354.88 410.35 L354.88 406.45 L355.75 406.45 L355.75 403.93 L356.42 403.93 L356.42 399.92 L357.08 399.92 L357.08 398.1 L357.75 398.1 L357.75 395.16 L358.31 395.16 L358.31 393.38 L358.88 393.38 L358.88 389.61 L359.44 389.61 L359.44 388.4 L360 388.4 L360 383.9 L360.56 383.9 L360.56 382.51 L361.12 382.51 L361.12 378.48 L361.69 378.48 L361.69 377.49 L362.25 377.49 L362.25 375.65 L363 375.65 L363 371.12 L363.75 371.12 L363.75 370.62 L364.5 370.62 L364.5 367.92 L365.06 367.92 L365.06 363.51 L365.62 363.51 L365.62 361.57 L366.19 361.57 L366.19 359.49 L366.75 359.49 L366.75 357.99 L367.5 357.99 L367.5 356.35 L368.25 356.35 L368.25 351.83 L369 351.83 L369 349.02 L369.83 349.02 L369.83 347.09 L370.67 347.09 L370.67 343.4 L371.5 343.4 L371.5 342.96 L372.33 342.96 L372.33 343.16 L373.17 343.16 L373.17 343.84 L374 343.84 L374 346.36 L374.83 346.36 L374.83 342.61 L375.67 342.61 L375.67 340.04 L376.5 340.04 L376.5 339.81 L377.5 339.81 L377.5 341.39 L378.5 341.39 L378.5 345.03 L379.33 345.03 L379.33 345.09 L380.17 345.09 L380.17 345.79 L381 345.79 L381 346.46 L381.83 346.46 L381.83 348.64 L382.67 348.64 L382.67 349.25 L383.5 349.25 L383.5 353.78 L384.38 353.78 L384.38 354.61 L385.25 354.61 L385.25 357.09 L386.08 357.09 L386.08 357.05 L386.92 357.05 L386.92 354.55 L387.75 354.55 L387.75 354.21 L388.62 354.21 L388.62 357.96 L389.5 357.96 L389.5 360.86 L390 360.86 L390 362.1 L390.5 362.1 L390.5 365.93 L391 365.93 L391 367.32 L391.5 367.32 L391.5 369.31 L392.33 369.31 L392.33 371.78 L393.17 371.78 L393.17 375.28 L394 375.28 L394 376.93 L394.62 376.93 L394.62 381.12 L395.25 381.12 L395.25 383.18 L395.88 383.18 L395.88 385.48 L396.5 385.48 L396.5 388.43 L397.33 388.43 L397.33 389.51 L398.17 389.51 L398.17 389.39 L399 389.39 L399 392.85 L399.83 392.85 L399.83 393.04 L400.67 393.04 L400.67 397.2 L401.5 397.2 L401.5 398.64 L402.33 398.64 L402.33 401.88 L403.17 401.88 L403.17 403.85 L404 403.85 L404 405.28 L404.83 405.28 L404.83 407.88 L405.67 407.88 L405.67 408.83 L406.5 408.83 L406.5 410 L407.33 410 L407.33 410.54 L408.17 410.54 L408.17 413.46 L409 413.46 L409 413.6 L409.94 413.6 L409.94 415.18 L410.88 415.18 L410.88 414.64 L411.81 414.64 L411.81 417.5 L412.75 417.5 L412.75 417.28 L413.69 417.28 L413.69 418.76 L414.62 418.76 L414.62 418.49 L415.56 418.49 L415.56 419.34 L416.5 419.34 L416.5 420.31 L417.44 420.31 L417.44 420.29 L418.38 420.29 L418.38 421.98 L419.31 421.98 L419.31 420.83 L420.25 420.83 L420.25 421.09 L421.19 421.09 L421.19 422.75 L422.12 422.75 L422.12 423 L423.06 423 L423.06 423.12 L424 423.12 L424 424.34 L424.83 424.34 L424.83 425.27 L425.67 425.27 L425.67 425.14 L426.5 425.14 L426.5 426.08 L427.33 426.08 L427.33 424.98 L428.17 424.98 L428.17 426.16 L429 426.16 L429 425.81 L429.83 425.81 L429.83 426.26 L430.67 426.26 L430.67 426.32 L431.5 426.32 L431.5 426.39 L432.33 426.39 L432.33 428.39 L433.17 428.39 L433.17 427.38 L434 427.38 L434 427.84 L434.83 427.84 L434.83 427.79 L435.67 427.79 L435.67 428.45 L436.5 428.45 L436.5 427.76 L437.33 427.76 L437.33 427.74 L438.17 427.74 L438.17 428.33 L439 428.33 L439 428.18 L439.83 428.18 L439.83 428.6 L440.67 428.6 L440.67 428.53 L441.5 428.53 L441.5 428.6" fill="none" stroke="#111" stroke-width="1.25"/>
<path d="M338.2 270.3 H508.85 V428.6" fill="none" stroke="#383838" stroke-width="1.2"/>
<line x1="331.2" y1="270.3" x2="338.2" y2="270.3" stroke="#9a9a9a"/>
<line x1="333.9" y1="280.19" x2="338.2" y2="280.19" stroke="#c2c2c2"/>
<line x1="333.9" y1="290.09" x2="338.2" y2="290.09" stroke="#c2c2c2"/>
<line x1="333.9" y1="299.98" x2="338.2" y2="299.98" stroke="#c2c2c2"/>
<line x1="331.2" y1="309.88" x2="338.2" y2="309.88" stroke="#9a9a9a"/>
<line x1="333.9" y1="319.77" x2="338.2" y2="319.77" stroke="#c2c2c2"/>
<line x1="333.9" y1="329.66" x2="338.2" y2="329.66" stroke="#c2c2c2"/>
<line x1="333.9" y1="339.56" x2="338.2" y2="339.56" stroke="#c2c2c2"/>
<line x1="331.2" y1="349.45" x2="338.2" y2="349.45" stroke="#9a9a9a"/>
<line x1="333.9" y1="359.34" x2="338.2" y2="359.34" stroke="#c2c2c2"/>
<line x1="333.9" y1="369.24" x2="338.2" y2="369.24" stroke="#c2c2c2"/>
<line x1="333.9" y1="379.13" x2="338.2" y2="379.13" stroke="#c2c2c2"/>
<line x1="331.2" y1="389.03" x2="338.2" y2="389.03" stroke="#9a9a9a"/>
<line x1="333.9" y1="398.92" x2="338.2" y2="398.92" stroke="#c2c2c2"/>
<line x1="333.9" y1="408.81" x2="338.2" y2="408.81" stroke="#c2c2c2"/>
<line x1="333.9" y1="418.71" x2="338.2" y2="418.71" stroke="#c2c2c2"/>
<line x1="331.2" y1="428.6" x2="338.2" y2="428.6" stroke="#9a9a9a"/>
<line x1="338.2" y1="428.6" x2="338.2" y2="435.6" stroke="#9c9c9c"/>
<line x1="355.32" y1="428.6" x2="355.32" y2="433.2" stroke="#bcbcbc"/>
<line x1="365.34" y1="428.6" x2="365.34" y2="433.2" stroke="#bcbcbc"/>
<line x1="372.45" y1="428.6" x2="372.45" y2="433.2" stroke="#bcbcbc"/>
<line x1="377.96" y1="428.6" x2="377.96" y2="433.2" stroke="#bcbcbc"/>
<line x1="382.46" y1="428.6" x2="382.46" y2="433.2" stroke="#bcbcbc"/>
<line x1="386.27" y1="428.6" x2="386.27" y2="433.2" stroke="#bcbcbc"/>
<line x1="389.57" y1="428.6" x2="389.57" y2="433.2" stroke="#bcbcbc"/>
<line x1="392.48" y1="428.6" x2="392.48" y2="433.2" stroke="#bcbcbc"/>
<line x1="395.08" y1="428.6" x2="395.08" y2="435.6" stroke="#9c9c9c"/>
<line x1="412.21" y1="428.6" x2="412.21" y2="433.2" stroke="#bcbcbc"/>
<line x1="422.22" y1="428.6" x2="422.22" y2="433.2" stroke="#bcbcbc"/>
<line x1="429.33" y1="428.6" x2="429.33" y2="433.2" stroke="#bcbcbc"/>
<line x1="434.84" y1="428.6" x2="434.84" y2="433.2" stroke="#bcbcbc"/>
<line x1="439.35" y1="428.6" x2="439.35" y2="433.2" stroke="#bcbcbc"/>
<line x1="443.16" y1="428.6" x2="443.16" y2="433.2" stroke="#bcbcbc"/>
<line x1="446.45" y1="428.6" x2="446.45" y2="433.2" stroke="#bcbcbc"/>
<line x1="449.36" y1="428.6" x2="449.36" y2="433.2" stroke="#bcbcbc"/>
<line x1="451.97" y1="428.6" x2="451.97" y2="435.6" stroke="#9c9c9c"/>
<line x1="469.09" y1="428.6" x2="469.09" y2="433.2" stroke="#bcbcbc"/>
<line x1="479.11" y1="428.6" x2="479.11" y2="433.2" stroke="#bcbcbc"/>
<line x1="486.21" y1="428.6" x2="486.21" y2="433.2" stroke="#bcbcbc"/>
<line x1="491.73" y1="428.6" x2="491.73" y2="433.2" stroke="#bcbcbc"/>
<line x1="496.23" y1="428.6" x2="496.23" y2="433.2" stroke="#bcbcbc"/>
<line x1="500.04" y1="428.6" x2="500.04" y2="433.2" stroke="#bcbcbc"/>
<line x1="503.34" y1="428.6" x2="503.34" y2="433.2" stroke="#bcbcbc"/>
<line x1="506.25" y1="428.6" x2="506.25" y2="433.2" stroke="#bcbcbc"/>
<line x1="508.85" y1="428.6" x2="508.85" y2="435.6" stroke="#9c9c9c"/>
<path d="M338.2 269.8 V428.6 H509.45" fill="none" stroke="#000" stroke-width="2.6"/>
<text font-size="16.5" fill="#000" x="311.88" y="276.05" textLength="17.07" lengthAdjust="spacingAndGlyphs">64</text>
<text font-size="16.5" fill="#000" x="312.1" y="315.62" textLength="17.07" lengthAdjust="spacingAndGlyphs">48</text>
<text font-size="16.5" fill="#000" x="312.2" y="355.2" textLength="17.07" lengthAdjust="spacingAndGlyphs">32</text>
<text font-size="16.5" fill="#000" x="312.11" y="394.78" textLength="17.07" lengthAdjust="spacingAndGlyphs">16</text>
<text font-size="16.5" fill="#000" x="320.57" y="434.35" textLength="8.53" lengthAdjust="spacingAndGlyphs">0</text>
<text font-size="17.2" fill="#000" x="321.52" y="461.4" textLength="17.6" lengthAdjust="spacingAndGlyphs">10</text>
<text font-size="12.75" fill="#000" x="338.23" y="451.5" textLength="6.74" lengthAdjust="spacingAndGlyphs">0</text>
<text font-size="17.2" fill="#000" x="378.4" y="461.4" textLength="17.6" lengthAdjust="spacingAndGlyphs">10</text>
<text font-size="12.75" fill="#000" x="394.66" y="451.5" textLength="6.74" lengthAdjust="spacingAndGlyphs">1</text>
<text font-size="17.2" fill="#000" x="435.28" y="461.4" textLength="17.6" lengthAdjust="spacingAndGlyphs">10</text>
<text font-size="12.75" fill="#000" x="451.86" y="451.5" textLength="6.74" lengthAdjust="spacingAndGlyphs">2</text>
<text font-size="17.2" fill="#000" x="492.17" y="461.4" textLength="17.6" lengthAdjust="spacingAndGlyphs">10</text>
<text font-size="12.75" fill="#000" x="508.89" y="451.5" textLength="6.74" lengthAdjust="spacingAndGlyphs">3</text>
<g stroke="#000" fill="none">
<line x1="390.15" y1="393.3" x2="508.85" y2="393.3" stroke-width="2.4"/>
<line x1="390.15" y1="383.7" x2="390.15" y2="402.9" stroke-width="2.7"/>
<line x1="508.85" y1="383.7" x2="508.85" y2="402.9" stroke-width="2.7"/>
</g>
<text font-size="32" fill="#000" x="382.02" y="296.5" textLength="112.28" lengthAdjust="spacingAndGlyphs">JuanaW</text>
<text font-size="26" fill="#000" x="415.46" y="381" textLength="49.32" lengthAdjust="spacingAndGlyphs">28%</text>
</g>
<g>
<path d="M105.5 645 L107 645 L107 644.67 L107.83 644.67 L107.83 643.69 L108.67 643.69 L108.67 643.28 L109.5 643.28 L109.5 642.65 L110.4 642.65 L110.4 641.7 L111.3 641.7 L111.3 641.24 L112.2 641.24 L112.2 640.01 L113.2 640.01 L113.2 637.96 L114.2 637.96 L114.2 636.26 L115.1 636.26 L115.1 633.88 L116 633.88 L116 631.1 L116.85 631.1 L116.85 628.68 L117.7 628.68 L117.7 625.79 L119.1 625.79 L119.1 621.91 L119.85 621.91 L119.85 619.29 L120.6 619.29 L120.6 616.15 L121.26 616.15 L121.26 612.62 L121.92 612.62 L121.92 609.44 L122.44 609.44 L122.44 606.26 L122.95 606.26 L122.95 603.71 L123.46 603.71 L123.46 601.14 L123.85 601.14 L123.85 599.11 L124.23 599.11 L124.23 595.82 L124.62 595.82 L124.62 593.38 L125 593.38 L125 591.03 L125.38 591.03 L125.38 588.27 L125.77 588.27 L125.77 585.17 L126.15 585.17 L126.15 581.95 L126.54 581.95 L126.54 578.78 L126.85 578.78 L126.85 574.79 L127.15 574.79 L127.15 573.07 L127.46 573.07 L127.46 570.98 L127.77 570.98 L127.77 568.18 L128.28 568.18 L128.28 564.36 L128.79 564.36 L128.79 561.95 L129.31 561.95 L129.31 558.44 L130.23 558.44 L130.23 555.49 L131.15 555.49 L131.15 552.15 L132.08 552.15 L132.08 548 L133 548 L133 543.82 L134 543.82 L134 544.28 L135 544.28 L135 545.25 L136.54 545.25 L136.54 548.68 L137.08 548.68 L137.08 549.29 L137.62 549.29 L137.62 554.19 L138.62 554.19 L138.62 556.1 L139.62 556.1 L139.62 557.53 L140.13 557.53 L140.13 559.64 L140.64 559.64 L140.64 562.28 L141.15 562.28 L141.15 564.9 L141.92 564.9 L141.92 567.52 L142.69 567.52 L142.69 570.6 L144.23 570.6 L144.23 565.89 L145.77 565.89 L145.77 570.84 L146.13 570.84 L146.13 574.01 L146.49 574.01 L146.49 576.55 L146.85 576.55 L146.85 580.66 L147.35 580.66 L147.35 583.01 L147.85 583.01 L147.85 585.24 L148.35 585.24 L148.35 587.4 L148.85 587.4 L148.85 590.21 L149.36 590.21 L149.36 593.17 L149.87 593.17 L149.87 595.82 L150.38 595.82 L150.38 598.09 L150.9 598.09 L150.9 601.38 L151.41 601.38 L151.41 603.06 L151.92 603.06 L151.92 606.68 L152.44 606.68 L152.44 608.09 L152.95 608.09 L152.95 611.52 L153.46 611.52 L153.46 613.48 L154.23 613.48 L154.23 616.37 L155 616.37 L155 619.93 L155.62 619.93 L155.62 622.43 L156.25 622.43 L156.25 624.97 L157.08 624.97 L157.08 627.67 L157.92 627.67 L157.92 629.91 L158.75 629.91 L158.75 632.21 L159.58 632.21 L159.58 634.61 L160.42 634.61 L160.42 636.94 L161.25 636.94 L161.25 638.92 L162.19 638.92 L162.19 639.33 L163.12 639.33 L163.12 640.4 L164.06 640.4 L164.06 641.42 L165 641.42 L165 642.38 L165.83 642.38 L165.83 642.42 L166.67 642.42 L166.67 643.12 L167.5 643.12 L167.5 643.49 L168.33 643.49 L168.33 643.87 L169.17 643.87 L169.17 644.82 L170 644.82 L170 645 L170 645.8 L105.5 645.8 Z" fill="#828282"/>
<path d="M105 645.6 L105.9 645.6 L105.9 645.45 L106.8 645.45 L106.8 645.28 L107.7 645.28 L107.7 645.29 L108.6 645.29 L108.6 644.72 L109.5 644.72 L109.5 644.99 L110.4 644.99 L110.4 644.88 L111.43 644.88 L111.43 644.22 L112.47 644.22 L112.47 643.44 L113.5 643.44 L113.5 643.41 L114.33 643.41 L114.33 642.47 L115.17 642.47 L115.17 641.61 L116 641.61 L116 641.58 L117.15 641.58 L117.15 641.01 L118.3 641.01 L118.3 639.4 L119.4 639.4 L119.4 637.98 L120.5 637.98 L120.5 635.39 L121.3 635.39 L121.3 634.15 L122.1 634.15 L122.1 632.86 L122.9 632.86 L122.9 631.76 L123.95 631.76 L123.95 629.5 L125 629.5 L125 625.82 L125.9 625.82 L125.9 621.25 L126.8 621.25 L126.8 618.84 L127.44 618.84 L127.44 614.15 L128.08 614.15 L128.08 611.58 L129.23 611.58 L129.23 608.25 L130.38 608.25 L130.38 606.19 L131.54 606.19 L131.54 604.05 L132.69 604.05 L132.69 602.52 L133.85 602.52 L133.85 599.44 L135 599.44 L135 595.5 L135.77 595.5 L135.77 593.48 L136.54 593.48 L136.54 592.37 L138.08 592.37 L138.08 586.84 L139.15 586.84 L139.15 585.39 L140.15 585.39 L140.15 588.47 L141.15 588.47 L141.15 589.94 L142.31 589.94 L142.31 589.46 L143.46 589.46 L143.46 587.73 L144.62 587.73 L144.62 585.85 L145.77 585.85 L145.77 585.72 L146.92 585.72 L146.92 585.62 L148.08 585.62 L148.08 583.27 L149.23 583.27 L149.23 582.92 L150.38 582.92 L150.38 582.1 L151.54 582.1 L151.54 581.45 L152.69 581.45 L152.69 580.61 L154.23 580.61 L154.23 582.59 L155.38 582.59 L155.38 582.55 L156.54 582.55 L156.54 583.95 L158.08 583.95 L158.08 586.19 L159.62 586.19 L159.62 591.92 L161.15 591.92 L161.15 593.93 L162.69 593.93 L162.69 596.77 L163.08 596.77 L163.08 599.73 L163.46 599.73 L163.46 600.56 L165 600.56 L165 606.22 L165.77 606.22 L165.77 609.93 L166.54 609.93 L166.54 610.71 L168.08 610.71 L168.08 617.31 L168.85 617.31 L168.85 620.17 L169.65 620.17 L169.65 620.9 L170.45 620.9 L170.45 623.21 L171.25 623.21 L171.25 622.85 L172.08 622.85 L172.08 625.76 L172.92 625.76 L172.92 628.4 L173.75 628.4 L173.75 628.52 L174.58 628.52 L174.58 630.36 L175.42 630.36 L175.42 629.29 L176.25 629.29 L176.25 630.12 L177.08 630.12 L177.08 631.96 L177.92 631.96 L177.92 632.29 L178.75 632.29 L178.75 633.47 L180 633.47 L180 636.23 L180.83 636.23 L180.83 637.2 L181.67 637.2 L181.67 635.74 L182.5 635.74 L182.5 638.6 L183.33 638.6 L183.33 636.27 L184.17 636.27 L184.17 635.91 L185 635.91 L185 634.54 L185.83 634.54 L185.83 636.67 L186.67 636.67 L186.67 636.33 L187.5 636.33 L187.5 635.01 L188.33 635.01 L188.33 635.41 L189.17 635.41 L189.17 635.2 L190 635.2 L190 635.02 L190.83 635.02 L190.83 636.05 L191.67 636.05 L191.67 637.07 L192.5 637.07 L192.5 637.31 L193.33 637.31 L193.33 636.83 L194.17 636.83 L194.17 636.13 L195 636.13 L195 635.25 L195.83 635.25 L195.83 637.13 L196.67 637.13 L196.67 636.63 L197.5 636.63 L197.5 637.29 L198.33 637.29 L198.33 637.88 L199.17 637.88 L199.17 637.25 L200 637.25 L200 639.31 L200.83 639.31 L200.83 638.72 L201.67 638.72 L201.67 640.38 L202.5 640.38 L202.5 639.93 L203.33 639.93 L203.33 640.43 L204.17 640.43 L204.17 639.36 L205 639.36 L205 638.27 L205.83 638.27 L205.83 638.77 L206.67 638.77 L206.67 638.4 L207.5 638.4 L207.5 640.68 L208.33 640.68 L208.33 638.3 L209.17 638.3 L209.17 637.01 L210 637.01 L210 638.47 L210.83 638.47 L210.83 637.35 L211.67 637.35 L211.67 638.25 L212.5 638.25 L212.5 637.95 L213.33 637.95 L213.33 637.42 L214.17 637.42 L214.17 639.2 L215 639.2 L215 640.84 L215.83 640.84 L215.83 640.18 L216.67 640.18 L216.67 639.57 L217.5 639.57 L217.5 642.42 L218.44 642.42 L218.44 641.78 L219.38 641.78 L219.38 642.43 L220.31 642.43 L220.31 642.07 L221.25 642.07 L221.25 643.19 L222.19 643.19 L222.19 642.42 L223.12 642.42 L223.12 642.26 L224.06 642.26 L224.06 644.43 L225 644.43 L225 644.21 L225.83 644.21 L225.83 645.11 L226.67 645.11 L226.67 642.96 L227.5 642.96 L227.5 643.92 L228.33 643.92 L228.33 642.88 L229.17 642.88 L229.17 645.09 L230 645.09 L230 643.05 L230.83 643.05 L230.83 644.18 L231.67 644.18 L231.67 643.08 L232.5 643.08 L232.5 644 L233.33 644 L233.33 644.23 L234.17 644.23 L234.17 644.84 L235 644.84 L235 645.02 L235.83 645.02 L235.83 645.54 L236.67 645.54 L236.67 645.32 L237.5 645.32 L237.5 645.67 L238.33 645.67 L238.33 645.2 L239.17 645.2 L239.17 645.53 L240 645.53 L240 645.5" fill="none" stroke="#111" stroke-width="1.3"/>
<path d="M104.8 486.4 H276.6 V645.8" fill="none" stroke="#383838" stroke-width="1.2"/>
<line x1="97.8" y1="486.4" x2="104.8" y2="486.4" stroke="#9a9a9a"/>
<line x1="100.5" y1="496.36" x2="104.8" y2="496.36" stroke="#c2c2c2"/>
<line x1="100.5" y1="506.32" x2="104.8" y2="506.32" stroke="#c2c2c2"/>
<line x1="100.5" y1="516.29" x2="104.8" y2="516.29" stroke="#c2c2c2"/>
<line x1="97.8" y1="526.25" x2="104.8" y2="526.25" stroke="#9a9a9a"/>
<line x1="100.5" y1="536.21" x2="104.8" y2="536.21" stroke="#c2c2c2"/>
<line x1="100.5" y1="546.17" x2="104.8" y2="546.17" stroke="#c2c2c2"/>
<line x1="100.5" y1="556.14" x2="104.8" y2="556.14" stroke="#c2c2c2"/>
<line x1="97.8" y1="566.1" x2="104.8" y2="566.1" stroke="#9a9a9a"/>
<line x1="100.5" y1="576.06" x2="104.8" y2="576.06" stroke="#c2c2c2"/>
<line x1="100.5" y1="586.02" x2="104.8" y2="586.02" stroke="#c2c2c2"/>
<line x1="100.5" y1="595.99" x2="104.8" y2="595.99" stroke="#c2c2c2"/>
<line x1="97.8" y1="605.95" x2="104.8" y2="605.95" stroke="#9a9a9a"/>
<line x1="100.5" y1="615.91" x2="104.8" y2="615.91" stroke="#c2c2c2"/>
<line x1="100.5" y1="625.88" x2="104.8" y2="625.88" stroke="#c2c2c2"/>
<line x1="100.5" y1="635.84" x2="104.8" y2="635.84" stroke="#c2c2c2"/>
<line x1="97.8" y1="645.8" x2="104.8" y2="645.8" stroke="#9a9a9a"/>
<line x1="104.8" y1="645.8" x2="104.8" y2="652.8" stroke="#9c9c9c"/>
<line x1="122.04" y1="645.8" x2="122.04" y2="650.4" stroke="#bcbcbc"/>
<line x1="132.12" y1="645.8" x2="132.12" y2="650.4" stroke="#bcbcbc"/>
<line x1="139.28" y1="645.8" x2="139.28" y2="650.4" stroke="#bcbcbc"/>
<line x1="144.83" y1="645.8" x2="144.83" y2="650.4" stroke="#bcbcbc"/>
<line x1="149.36" y1="645.8" x2="149.36" y2="650.4" stroke="#bcbcbc"/>
<line x1="153.2" y1="645.8" x2="153.2" y2="650.4" stroke="#bcbcbc"/>
<line x1="156.52" y1="645.8" x2="156.52" y2="650.4" stroke="#bcbcbc"/>
<line x1="159.45" y1="645.8" x2="159.45" y2="650.4" stroke="#bcbcbc"/>
<line x1="162.07" y1="645.8" x2="162.07" y2="652.8" stroke="#9c9c9c"/>
<line x1="179.31" y1="645.8" x2="179.31" y2="650.4" stroke="#bcbcbc"/>
<line x1="189.39" y1="645.8" x2="189.39" y2="650.4" stroke="#bcbcbc"/>
<line x1="196.54" y1="645.8" x2="196.54" y2="650.4" stroke="#bcbcbc"/>
<line x1="202.09" y1="645.8" x2="202.09" y2="650.4" stroke="#bcbcbc"/>
<line x1="206.63" y1="645.8" x2="206.63" y2="650.4" stroke="#bcbcbc"/>
<line x1="210.46" y1="645.8" x2="210.46" y2="650.4" stroke="#bcbcbc"/>
<line x1="213.78" y1="645.8" x2="213.78" y2="650.4" stroke="#bcbcbc"/>
<line x1="216.71" y1="645.8" x2="216.71" y2="650.4" stroke="#bcbcbc"/>
<line x1="219.33" y1="645.8" x2="219.33" y2="652.8" stroke="#9c9c9c"/>
<line x1="236.57" y1="645.8" x2="236.57" y2="650.4" stroke="#bcbcbc"/>
<line x1="246.66" y1="645.8" x2="246.66" y2="650.4" stroke="#bcbcbc"/>
<line x1="253.81" y1="645.8" x2="253.81" y2="650.4" stroke="#bcbcbc"/>
<line x1="259.36" y1="645.8" x2="259.36" y2="650.4" stroke="#bcbcbc"/>
<line x1="263.9" y1="645.8" x2="263.9" y2="650.4" stroke="#bcbcbc"/>
<line x1="267.73" y1="645.8" x2="267.73" y2="650.4" stroke="#bcbcbc"/>
<line x1="271.05" y1="645.8" x2="271.05" y2="650.4" stroke="#bcbcbc"/>
<line x1="273.98" y1="645.8" x2="273.98" y2="650.4" stroke="#bcbcbc"/>
<line x1="276.6" y1="645.8" x2="276.6" y2="652.8" stroke="#9c9c9c"/>
<path d="M104.8 485.9 V645.8 H277.2" fill="none" stroke="#000" stroke-width="2.6"/>
<text font-size="16.5" fill="#000" x="78.48" y="492.15" textLength="17.07" lengthAdjust="spacingAndGlyphs">64</text>
<text font-size="16.5" fill="#000" x="78.7" y="532" textLength="17.07" lengthAdjust="spacingAndGlyphs">48</text>
<text font-size="16.5" fill="#000" x="78.8" y="571.85" textLength="17.07" lengthAdjust="spacingAndGlyphs">32</text>
<text font-size="16.5" fill="#000" x="78.71" y="611.7" textLength="17.07" lengthAdjust="spacingAndGlyphs">16</text>
<text font-size="16.5" fill="#000" x="87.17" y="651.55" textLength="8.53" lengthAdjust="spacingAndGlyphs">0</text>
<text font-size="17.2" fill="#000" x="88.12" y="678.6" textLength="17.6" lengthAdjust="spacingAndGlyphs">10</text>
<text font-size="12.75" fill="#000" x="104.83" y="668.7" textLength="6.74" lengthAdjust="spacingAndGlyphs">0</text>
<text font-size="17.2" fill="#000" x="145.38" y="678.6" textLength="17.6" lengthAdjust="spacingAndGlyphs">10</text>
<text font-size="12.75" fill="#000" x="161.64" y="668.7" textLength="6.74" lengthAdjust="spacingAndGlyphs">1</text>
<text font-size="17.2" fill="#000" x="202.65" y="678.6" textLength="17.6" lengthAdjust="spacingAndGlyphs">10</text>
<text font-size="12.75" fill="#000" x="219.22" y="668.7" textLength="6.74" lengthAdjust="spacingAndGlyphs">2</text>
<text font-size="17.2" fill="#000" x="259.92" y="678.6" textLength="17.6" lengthAdjust="spacingAndGlyphs">10</text>
<text font-size="12.75" fill="#000" x="276.64" y="668.7" textLength="6.74" lengthAdjust="spacingAndGlyphs">3</text>
<g stroke="#000" fill="none">
<line x1="159.6" y1="610" x2="276.6" y2="610" stroke-width="2.4"/>
<line x1="159.6" y1="600.3" x2="159.6" y2="619.7" stroke-width="2.7"/>
<line x1="276.6" y1="600.3" x2="276.6" y2="619.7" stroke-width="2.7"/>
</g>
<text font-size="32" fill="#000" x="201.77" y="512" textLength="53.23" lengthAdjust="spacingAndGlyphs">Eva</text>
<text font-size="26" fill="#000" x="185.67" y="592" textLength="48.69" lengthAdjust="spacingAndGlyphs">30%</text>
</g>
<g>
<path d="M342.25 642.5 L343.19 642.5 L343.19 641.4 L344.12 641.4 L344.12 639.85 L345.06 639.85 L345.06 638.9 L346 638.9 L346 636.93 L346.94 636.93 L346.94 636.4 L347.88 636.4 L347.88 636.02 L348.81 636.02 L348.81 634.61 L349.75 634.61 L349.75 633.88 L350.58 633.88 L350.58 631.41 L351.42 631.41 L351.42 629.96 L352.25 629.96 L352.25 627.76 L352.75 627.76 L352.75 625.36 L353.25 625.36 L353.25 622.39 L353.75 622.39 L353.75 620.16 L354.25 620.16 L354.25 617.2 L354.75 617.2 L354.75 615.15 L355.25 615.15 L355.25 611.77 L355.75 611.77 L355.75 610.19 L356.25 610.19 L356.25 607.75 L356.75 607.75 L356.75 604.86 L357.25 604.86 L357.25 603.07 L357.88 603.07 L357.88 599.96 L358.5 599.96 L358.5 598.29 L359.12 598.29 L359.12 594.79 L359.75 594.79 L359.75 592.15 L360.25 592.15 L360.25 589.94 L360.75 589.94 L360.75 589.1 L361.25 589.1 L361.25 584.19 L361.75 584.19 L361.75 582.32 L362.25 582.32 L362.25 579.81 L362.67 579.81 L362.67 577.91 L363.08 577.91 L363.08 574.16 L363.5 574.16 L363.5 573.63 L363.92 573.63 L363.92 568.92 L364.33 568.92 L364.33 568.45 L364.75 568.45 L364.75 564.85 L365.58 564.85 L365.58 561.91 L366.42 561.91 L366.42 560.48 L367.25 560.48 L367.25 556.42 L368.08 556.42 L368.08 554.97 L368.92 554.97 L368.92 551.63 L369.75 551.63 L369.75 549.1 L370.58 549.1 L370.58 547 L371.42 547 L371.42 545.74 L372.25 545.74 L372.25 544.97 L373.08 544.97 L373.08 542.63 L373.92 542.63 L373.92 543.09 L374.75 543.09 L374.75 540.78 L375.38 540.78 L375.38 538.42 L376 538.42 L376 535.05 L376.5 535.05 L376.5 536.98 L377 536.98 L377 540.3 L377.5 540.3 L377.5 542.62 L378 542.62 L378 545.24 L378.83 545.24 L378.83 543.36 L379.67 543.36 L379.67 544.31 L380.5 544.31 L380.5 545 L380.94 545 L380.94 545.21 L381.38 545.21 L381.38 549.27 L381.81 549.27 L381.81 552.13 L382.25 552.13 L382.25 555.08 L383.08 555.08 L383.08 556.87 L383.92 556.87 L383.92 558.71 L384.75 558.71 L384.75 559.59 L385.38 559.59 L385.38 562.39 L386 562.39 L386 564.35 L386.62 564.35 L386.62 566.5 L387.25 566.5 L387.25 569.43 L387.88 569.43 L387.88 572.38 L388.5 572.38 L388.5 574.82 L389.12 574.82 L389.12 577.16 L389.75 577.16 L389.75 579.63 L390.11 579.63 L390.11 582.9 L390.46 582.9 L390.46 584.94 L390.82 584.94 L390.82 587.56 L391.18 587.56 L391.18 591.08 L391.54 591.08 L391.54 592.33 L391.89 592.33 L391.89 595.1 L392.25 595.1 L392.25 597.78 L392.61 597.78 L392.61 599.08 L392.96 599.08 L392.96 602.25 L393.32 602.25 L393.32 605.01 L393.68 605.01 L393.68 607.74 L394.04 607.74 L394.04 609.74 L394.39 609.74 L394.39 612.5 L394.75 612.5 L394.75 615.11 L395.25 615.11 L395.25 617.68 L395.75 617.68 L395.75 619.84 L396.25 619.84 L396.25 622.72 L396.75 622.72 L396.75 625.2 L397.25 625.2 L397.25 627.2 L398.08 627.2 L398.08 629.52 L398.92 629.52 L398.92 633.42 L399.75 633.42 L399.75 636.58 L400.58 636.58 L400.58 637.86 L401.42 637.86 L401.42 640.04 L402.25 640.04 L402.25 640.91 L403.19 640.91 L403.19 642.09 L404.12 642.09 L404.12 643.01 L405.06 643.01 L405.06 643.47 L406 643.47 L406 644.48 L406.94 644.48 L406.94 644.75 L407.88 644.75 L407.88 645.07 L408.81 645.07 L408.81 645.34 L409.75 645.34 L409.75 645.5 L409.75 645.6 L342.25 645.6 Z" fill="#828282"/>
<path d="M341.25 645.5 L342.25 645.5 L342.25 645.27 L343.05 645.27 L343.05 644.62 L343.85 644.62 L343.85 645.34 L344.65 645.34 L344.65 644.73 L345.45 644.73 L345.45 644.87 L346.25 644.87 L346.25 643 L347.05 643 L347.05 643.7 L347.85 643.7 L347.85 642.43 L348.65 642.43 L348.65 642.73 L349.45 642.73 L349.45 643.31 L350.25 643.31 L350.25 642.85 L351.25 642.85 L351.25 642.73 L352.25 642.73 L352.25 640.52 L353.25 640.52 L353.25 641.54 L354.38 641.54 L354.38 639.43 L355.5 639.43 L355.5 638.78 L356.5 638.78 L356.5 637.23 L357.5 637.23 L357.5 635.54 L358.5 635.54 L358.5 633.61 L359.5 633.61 L359.5 630.18 L361 630.18 L361 628.42 L362.5 628.42 L362.5 625.4 L363.38 625.4 L363.38 622.99 L364.25 622.99 L364.25 620.34 L365.25 620.34 L365.25 617.28 L366.25 617.28 L366.25 617.04 L367.17 617.04 L367.17 613.38 L368.08 613.38 L368.08 611.19 L369 611.19 L369 610.43 L369.92 610.43 L369.92 607.96 L370.83 607.96 L370.83 606.56 L371.75 606.56 L371.75 606.43 L372.88 606.43 L372.88 602.93 L374 602.93 L374 600.03 L374.58 600.03 L374.58 597.82 L375.17 597.82 L375.17 594.31 L375.75 594.31 L375.75 591.96 L376.33 591.96 L376.33 589.76 L376.92 589.76 L376.92 586.34 L377.5 586.34 L377.5 583.6 L378.62 583.6 L378.62 582.53 L379.75 582.53 L379.75 580.13 L380.62 580.13 L380.62 584.18 L381.5 584.18 L381.5 585.26 L382.5 585.26 L382.5 584.93 L383.5 584.93 L383.5 583.34 L384.33 583.34 L384.33 580.58 L385.17 580.58 L385.17 580.9 L386 580.9 L386 578.71 L386.83 578.71 L386.83 576.42 L387.67 576.42 L387.67 577.11 L388.5 577.11 L388.5 575.45 L389.33 575.45 L389.33 577.02 L390.17 577.02 L390.17 575.16 L391 575.16 L391 575.55 L392 575.55 L392 573.76 L393 573.76 L393 571.43 L393.83 571.43 L393.83 569.62 L394.67 569.62 L394.67 566.73 L395.5 566.73 L395.5 566.73 L395.94 566.73 L395.94 568.63 L396.38 568.63 L396.38 571.7 L396.81 571.7 L396.81 574.51 L397.25 574.51 L397.25 575.98 L398.08 575.98 L398.08 580.54 L398.92 580.54 L398.92 582.37 L399.75 582.37 L399.75 585.12 L400.58 585.12 L400.58 584.81 L401.42 584.81 L401.42 585.75 L402.25 585.75 L402.25 586.55 L403.08 586.55 L403.08 588.4 L403.92 588.4 L403.92 593.72 L404.75 593.72 L404.75 594.81 L405.58 594.81 L405.58 597.65 L406.42 597.65 L406.42 599.21 L407.25 599.21 L407.25 600.59 L407.88 600.59 L407.88 601.81 L408.5 601.81 L408.5 603.88 L409.12 603.88 L409.12 608.15 L409.75 608.15 L409.75 609.91 L410.58 609.91 L410.58 612.28 L411.42 612.28 L411.42 614.9 L412.25 614.9 L412.25 615.35 L413.08 615.35 L413.08 619.83 L413.92 619.83 L413.92 620.64 L414.75 620.64 L414.75 623.34 L415.58 623.34 L415.58 625.36 L416.42 625.36 L416.42 626.66 L417.25 626.66 L417.25 628.01 L418.08 628.01 L418.08 630.2 L418.92 630.2 L418.92 630.97 L419.75 630.97 L419.75 633.06 L420.58 633.06 L420.58 633.4 L421.42 633.4 L421.42 634.06 L422.25 634.06 L422.25 636.17 L423.08 636.17 L423.08 636.35 L423.92 636.35 L423.92 636.55 L424.75 636.55 L424.75 636.78 L425.69 636.78 L425.69 637.35 L426.62 637.35 L426.62 638.85 L427.56 638.85 L427.56 639.35 L428.5 639.35 L428.5 640.72 L429.44 640.72 L429.44 639.94 L430.38 639.94 L430.38 641.71 L431.31 641.71 L431.31 641.04 L432.25 641.04 L432.25 642.76 L433.19 642.76 L433.19 644.04 L434.12 644.04 L434.12 643.38 L435.06 643.38 L435.06 644.06 L436 644.06 L436 643.81 L436.83 643.81 L436.83 643.72 L437.67 643.72 L437.67 644.38 L438.5 644.38 L438.5 644.91 L439.33 644.91 L439.33 644.5 L440.17 644.5 L440.17 644.92 L441 644.92 L441 645.24 L441.83 645.24 L441.83 645.21 L442.67 645.21 L442.67 645.45 L443.5 645.45 L443.5 645.6 L444.33 645.6 L444.33 645.33 L445.17 645.33 L445.17 645.45 L446 645.45 L446 645.5" fill="none" stroke="#111" stroke-width="1.25"/>
<path d="M341 486.2 H512.9 V645.6" fill="none" stroke="#383838" stroke-width="1.2"/>
<line x1="334" y1="486.2" x2="341" y2="486.2" stroke="#9a9a9a"/>
<line x1="336.7" y1="496.16" x2="341" y2="496.16" stroke="#c2c2c2"/>
<line x1="336.7" y1="506.12" x2="341" y2="506.12" stroke="#c2c2c2"/>
<line x1="336.7" y1="516.09" x2="341" y2="516.09" stroke="#c2c2c2"/>
<line x1="334" y1="526.05" x2="341" y2="526.05" stroke="#9a9a9a"/>
<line x1="336.7" y1="536.01" x2="341" y2="536.01" stroke="#c2c2c2"/>
<line x1="336.7" y1="545.98" x2="341" y2="545.98" stroke="#c2c2c2"/>
<line x1="336.7" y1="555.94" x2="341" y2="555.94" stroke="#c2c2c2"/>
<line x1="334" y1="565.9" x2="341" y2="565.9" stroke="#9a9a9a"/>
<line x1="336.7" y1="575.86" x2="341" y2="575.86" stroke="#c2c2c2"/>
<line x1="336.7" y1="585.83" x2="341" y2="585.83" stroke="#c2c2c2"/>
<line x1="336.7" y1="595.79" x2="341" y2="595.79" stroke="#c2c2c2"/>
<line x1="334" y1="605.75" x2="341" y2="605.75" stroke="#9a9a9a"/>
<line x1="336.7" y1="615.71" x2="341" y2="615.71" stroke="#c2c2c2"/>
<line x1="336.7" y1="625.67" x2="341" y2="625.67" stroke="#c2c2c2"/>
<line x1="336.7" y1="635.64" x2="341" y2="635.64" stroke="#c2c2c2"/>
<line x1="334" y1="645.6" x2="341" y2="645.6" stroke="#9a9a9a"/>
<line x1="341" y1="645.6" x2="341" y2="652.6" stroke="#9c9c9c"/>
<line x1="358.25" y1="645.6" x2="358.25" y2="650.2" stroke="#bcbcbc"/>
<line x1="368.34" y1="645.6" x2="368.34" y2="650.2" stroke="#bcbcbc"/>
<line x1="375.5" y1="645.6" x2="375.5" y2="650.2" stroke="#bcbcbc"/>
<line x1="381.05" y1="645.6" x2="381.05" y2="650.2" stroke="#bcbcbc"/>
<line x1="385.59" y1="645.6" x2="385.59" y2="650.2" stroke="#bcbcbc"/>
<line x1="389.42" y1="645.6" x2="389.42" y2="650.2" stroke="#bcbcbc"/>
<line x1="392.75" y1="645.6" x2="392.75" y2="650.2" stroke="#bcbcbc"/>
<line x1="395.68" y1="645.6" x2="395.68" y2="650.2" stroke="#bcbcbc"/>
<line x1="398.3" y1="645.6" x2="398.3" y2="652.6" stroke="#9c9c9c"/>
<line x1="415.55" y1="645.6" x2="415.55" y2="650.2" stroke="#bcbcbc"/>
<line x1="425.64" y1="645.6" x2="425.64" y2="650.2" stroke="#bcbcbc"/>
<line x1="432.8" y1="645.6" x2="432.8" y2="650.2" stroke="#bcbcbc"/>
<line x1="438.35" y1="645.6" x2="438.35" y2="650.2" stroke="#bcbcbc"/>
<line x1="442.89" y1="645.6" x2="442.89" y2="650.2" stroke="#bcbcbc"/>
<line x1="446.72" y1="645.6" x2="446.72" y2="650.2" stroke="#bcbcbc"/>
<line x1="450.05" y1="645.6" x2="450.05" y2="650.2" stroke="#bcbcbc"/>
<line x1="452.98" y1="645.6" x2="452.98" y2="650.2" stroke="#bcbcbc"/>
<line x1="455.6" y1="645.6" x2="455.6" y2="652.6" stroke="#9c9c9c"/>
<line x1="472.85" y1="645.6" x2="472.85" y2="650.2" stroke="#bcbcbc"/>
<line x1="482.94" y1="645.6" x2="482.94" y2="650.2" stroke="#bcbcbc"/>
<line x1="490.1" y1="645.6" x2="490.1" y2="650.2" stroke="#bcbcbc"/>
<line x1="495.65" y1="645.6" x2="495.65" y2="650.2" stroke="#bcbcbc"/>
<line x1="500.19" y1="645.6" x2="500.19" y2="650.2" stroke="#bcbcbc"/>
<line x1="504.02" y1="645.6" x2="504.02" y2="650.2" stroke="#bcbcbc"/>
<line x1="507.35" y1="645.6" x2="507.35" y2="650.2" stroke="#bcbcbc"/>
<line x1="510.28" y1="645.6" x2="510.28" y2="650.2" stroke="#bcbcbc"/>
<line x1="512.9" y1="645.6" x2="512.9" y2="652.6" stroke="#9c9c9c"/>
<path d="M341 485.7 V645.6 H513.5" fill="none" stroke="#000" stroke-width="2.6"/>
<text font-size="16.5" fill="#000" x="314.68" y="491.95" textLength="17.07" lengthAdjust="spacingAndGlyphs">64</text>
<text font-size="16.5" fill="#000" x="314.9" y="531.8" textLength="17.07" lengthAdjust="spacingAndGlyphs">48</text>
<text font-size="16.5" fill="#000" x="315" y="571.65" textLength="17.07" lengthAdjust="spacingAndGlyphs">32</text>
<text font-size="16.5" fill="#000" x="314.91" y="611.5" textLength="17.07" lengthAdjust="spacingAndGlyphs">16</text>
<text font-size="16.5" fill="#000" x="323.37" y="651.35" textLength="8.53" lengthAdjust="spacingAndGlyphs">0</text>
<text font-size="17.2" fill="#000" x="324.32" y="678.4" textLength="17.6" lengthAdjust="spacingAndGlyphs">10</text>
<text font-size="12.75" fill="#000" x="341.03" y="668.5" textLength="6.74" lengthAdjust="spacingAndGlyphs">0</text>
<text font-size="17.2" fill="#000" x="381.62" y="678.4" textLength="17.6" lengthAdjust="spacingAndGlyphs">10</text>
<text font-size="12.75" fill="#000" x="397.88" y="668.5" textLength="6.74" lengthAdjust="spacingAndGlyphs">1</text>
<text font-size="17.2" fill="#000" x="438.92" y="678.4" textLength="17.6" lengthAdjust="spacingAndGlyphs">10</text>
<text font-size="12.75" fill="#000" x="455.49" y="668.5" textLength="6.74" lengthAdjust="spacingAndGlyphs">2</text>
<text font-size="17.2" fill="#000" x="496.22" y="678.4" textLength="17.6" lengthAdjust="spacingAndGlyphs">10</text>
<text font-size="12.75" fill="#000" x="512.94" y="668.5" textLength="6.74" lengthAdjust="spacingAndGlyphs">3</text>
<g stroke="#000" fill="none">
<line x1="398.2" y1="609.8" x2="512.9" y2="609.8" stroke-width="2.5"/>
<line x1="398.2" y1="600.1" x2="398.2" y2="619.5" stroke-width="2.8"/>
<line x1="512.9" y1="600.1" x2="512.9" y2="619.5" stroke-width="2.8"/>
</g>
<text font-size="32" fill="#000" x="425.31" y="512" textLength="70" lengthAdjust="spacingAndGlyphs">Xpos</text>
<text font-size="26" fill="#000" x="427.06" y="593.4" textLength="49.32" lengthAdjust="spacingAndGlyphs">30%</text>
</g>
<g>
<path d="M107.77 861.54 L108.73 861.54 L108.73 860.46 L109.69 860.46 L109.69 859.15 L110.65 859.15 L110.65 859.19 L111.62 859.19 L111.62 857.75 L112.58 857.75 L112.58 855.16 L113.54 855.16 L113.54 852.48 L114.5 852.48 L114.5 850.17 L115.22 850.17 L115.22 846.63 L115.94 846.63 L115.94 844.54 L116.66 844.54 L116.66 842.12 L117.38 842.12 L117.38 838.23 L117.87 838.23 L117.87 836.18 L118.35 836.18 L118.35 833.02 L118.83 833.02 L118.83 830.31 L119.31 830.31 L119.31 828.2 L119.79 828.2 L119.79 825.32 L120.27 825.32 L120.27 822.86 L120.75 822.86 L120.75 820.54 L121.23 820.54 L121.23 817.87 L121.71 817.87 L121.71 815.89 L122.19 815.89 L122.19 813.2 L122.67 813.2 L122.67 810.45 L123.15 810.45 L123.15 807.81 L123.54 807.81 L123.54 804.71 L123.92 804.71 L123.92 802.18 L124.31 802.18 L124.31 799.67 L124.69 799.67 L124.69 796.9 L125.08 796.9 L125.08 793.98 L125.46 793.98 L125.46 791.93 L125.85 791.93 L125.85 789.71 L126.23 789.71 L126.23 785.45 L126.62 785.45 L126.62 783.73 L127 783.73 L127 780.21 L127.64 780.21 L127.64 777.09 L128.28 777.09 L128.28 774.03 L128.92 774.03 L128.92 771.33 L129.88 771.33 L129.88 769.52 L130.85 769.52 L130.85 767.67 L131.81 767.67 L131.81 766.37 L132.77 766.37 L132.77 766 L134.31 766 L134.31 763.46 L134.98 763.46 L134.98 765.85 L135.65 765.85 L135.65 769.59 L136.1 769.59 L136.1 772.18 L136.55 772.18 L136.55 775.18 L137 775.18 L137 777.8 L137.38 777.8 L137.38 780.82 L137.77 780.82 L137.77 782.39 L138.15 782.39 L138.15 786.29 L138.54 786.29 L138.54 788.25 L138.92 788.25 L138.92 790.62 L139.31 790.62 L139.31 794 L139.69 794 L139.69 796.31 L140.08 796.31 L140.08 798.91 L140.46 798.91 L140.46 801.42 L140.85 801.42 L140.85 804.54 L141.23 804.54 L141.23 806.83 L141.62 806.83 L141.62 809.17 L142 809.17 L142 812.56 L142.38 812.56 L142.38 815.18 L142.71 815.18 L142.71 817.37 L143.03 817.37 L143.03 820.14 L143.35 820.14 L143.35 822.93 L143.67 822.93 L143.67 825.61 L143.99 825.61 L143.99 828.6 L144.31 828.6 L144.31 831.02 L144.79 831.02 L144.79 833.57 L145.27 833.57 L145.27 836.15 L145.75 836.15 L145.75 839.37 L146.23 839.37 L146.23 841.92 L146.87 841.92 L146.87 844.96 L147.51 844.96 L147.51 847.26 L148.15 847.26 L148.15 850.22 L149.12 850.22 L149.12 852.51 L150.08 852.51 L150.08 855.9 L151.04 855.9 L151.04 857.48 L152 857.48 L152 858.87 L152.96 858.87 L152.96 860.95 L153.92 860.95 L153.92 861.36 L154.88 861.36 L154.88 862.18 L155.85 862.18 L155.85 863.07 L156.81 863.07 L156.81 863.37 L157.77 863.37 L157.77 863.85 L157.77 864.2 L107.77 864.2 Z" fill="#828282"/>
<path d="M107.77 863.46 L108.57 863.46 L108.57 863.31 L109.37 863.31 L109.37 862.8 L110.17 862.8 L110.17 862.89 L110.97 862.89 L110.97 862.6 L111.78 862.6 L111.78 861.86 L112.58 861.86 L112.58 862 L113.46 862 L113.46 861.32 L114.35 861.32 L114.35 860.97 L115.23 860.97 L115.23 860.52 L116.12 860.52 L116.12 860.17 L117 860.17 L117 859.99 L117.82 859.99 L117.82 858.38 L118.63 858.38 L118.63 857.17 L119.45 857.17 L119.45 856.21 L120.27 856.21 L120.27 854.78 L121.23 854.78 L121.23 851.9 L122.19 851.9 L122.19 849.34 L123.15 849.34 L123.15 846.64 L123.88 846.64 L123.88 842.64 L124.6 842.64 L124.6 840.27 L125.32 840.27 L125.32 837.72 L126.04 837.72 L126.04 834.29 L126.68 834.29 L126.68 831.48 L127.32 831.48 L127.32 827.34 L127.96 827.34 L127.96 825.29 L128.54 825.29 L128.54 821.23 L129.12 821.23 L129.12 818.6 L129.69 818.6 L129.69 815.24 L130.12 815.24 L130.12 812.76 L130.56 812.76 L130.56 810.32 L130.99 810.32 L130.99 805.97 L131.42 805.97 L131.42 803.57 L132 803.57 L132 800.47 L132.58 800.47 L132.58 797.54 L133.15 797.54 L133.15 794.05 L133.73 794.05 L133.73 792.07 L134.31 792.07 L134.31 788.85 L134.88 788.85 L134.88 786.1 L135.53 786.1 L135.53 784.03 L136.17 784.03 L136.17 780.53 L136.81 780.53 L136.81 778.08 L137.67 778.08 L137.67 776.62 L138.54 776.62 L138.54 773.6 L139.31 773.6 L139.31 769.75 L140.08 769.75 L140.08 768.77 L141.42 768.77 L141.42 763.06 L141.62 763.06 L141.62 764.73 L141.81 764.73 L141.81 769.39 L142 769.39 L142 769.65 L142.19 769.65 L142.19 773.19 L143.54 773.19 L143.54 778.08 L144.5 778.08 L144.5 779.99 L145.46 779.99 L145.46 783.07 L145.91 783.07 L145.91 785.48 L146.36 785.48 L146.36 789.38 L146.81 789.38 L146.81 790.71 L147.26 790.71 L147.26 795.82 L147.71 795.82 L147.71 798.23 L148.15 798.23 L148.15 802.66 L148.6 802.66 L148.6 804.34 L149.05 804.34 L149.05 806.89 L149.5 806.89 L149.5 810.14 L150.01 810.14 L150.01 813.5 L150.53 813.5 L150.53 816.41 L151.04 816.41 L151.04 818.6 L151.62 818.6 L151.62 822.02 L152.19 822.02 L152.19 824.77 L152.77 824.77 L152.77 826.57 L153.28 826.57 L153.28 830.75 L153.79 830.75 L153.79 833.44 L154.31 833.44 L154.31 837.04 L154.82 837.04 L154.82 840.04 L155.33 840.04 L155.33 842.52 L155.85 842.52 L155.85 846.04 L156.49 846.04 L156.49 848.63 L157.13 848.63 L157.13 851.15 L157.77 851.15 L157.77 853.7 L158.73 853.7 L158.73 856.43 L159.69 856.43 L159.69 858.69 L160.65 858.69 L160.65 860.25 L161.62 860.25 L161.62 861.65 L162.77 861.65 L162.77 863.1 L163.92 863.1 L163.92 863.46" fill="none" stroke="#111" stroke-width="1.25"/>
<path d="M106.65 703.4 H265 V864.2" fill="none" stroke="#383838" stroke-width="1.2"/>
<line x1="99.65" y1="703.4" x2="106.65" y2="703.4" stroke="#9a9a9a"/>
<line x1="102.35" y1="713.45" x2="106.65" y2="713.45" stroke="#c2c2c2"/>
<line x1="102.35" y1="723.5" x2="106.65" y2="723.5" stroke="#c2c2c2"/>
<line x1="102.35" y1="733.55" x2="106.65" y2="733.55" stroke="#c2c2c2"/>
<line x1="99.65" y1="743.6" x2="106.65" y2="743.6" stroke="#9a9a9a"/>
<line x1="102.35" y1="753.65" x2="106.65" y2="753.65" stroke="#c2c2c2"/>
<line x1="102.35" y1="763.7" x2="106.65" y2="763.7" stroke="#c2c2c2"/>
<line x1="102.35" y1="773.75" x2="106.65" y2="773.75" stroke="#c2c2c2"/>
<line x1="99.65" y1="783.8" x2="106.65" y2="783.8" stroke="#9a9a9a"/>
<line x1="102.35" y1="793.85" x2="106.65" y2="793.85" stroke="#c2c2c2"/>
<line x1="102.35" y1="803.9" x2="106.65" y2="803.9" stroke="#c2c2c2"/>
<line x1="102.35" y1="813.95" x2="106.65" y2="813.95" stroke="#c2c2c2"/>
<line x1="99.65" y1="824" x2="106.65" y2="824" stroke="#9a9a9a"/>
<line x1="102.35" y1="834.05" x2="106.65" y2="834.05" stroke="#c2c2c2"/>
<line x1="102.35" y1="844.1" x2="106.65" y2="844.1" stroke="#c2c2c2"/>
<line x1="102.35" y1="854.15" x2="106.65" y2="854.15" stroke="#c2c2c2"/>
<line x1="99.65" y1="864.2" x2="106.65" y2="864.2" stroke="#9a9a9a"/>
<line x1="106.65" y1="864.2" x2="106.65" y2="871.2" stroke="#9c9c9c"/>
<line x1="122.54" y1="864.2" x2="122.54" y2="868.8" stroke="#bcbcbc"/>
<line x1="131.83" y1="864.2" x2="131.83" y2="868.8" stroke="#bcbcbc"/>
<line x1="138.43" y1="864.2" x2="138.43" y2="868.8" stroke="#bcbcbc"/>
<line x1="143.54" y1="864.2" x2="143.54" y2="868.8" stroke="#bcbcbc"/>
<line x1="147.72" y1="864.2" x2="147.72" y2="868.8" stroke="#bcbcbc"/>
<line x1="151.26" y1="864.2" x2="151.26" y2="868.8" stroke="#bcbcbc"/>
<line x1="154.32" y1="864.2" x2="154.32" y2="868.8" stroke="#bcbcbc"/>
<line x1="157.02" y1="864.2" x2="157.02" y2="868.8" stroke="#bcbcbc"/>
<line x1="159.43" y1="864.2" x2="159.43" y2="871.2" stroke="#9c9c9c"/>
<line x1="175.32" y1="864.2" x2="175.32" y2="868.8" stroke="#bcbcbc"/>
<line x1="184.62" y1="864.2" x2="184.62" y2="868.8" stroke="#bcbcbc"/>
<line x1="191.21" y1="864.2" x2="191.21" y2="868.8" stroke="#bcbcbc"/>
<line x1="196.33" y1="864.2" x2="196.33" y2="868.8" stroke="#bcbcbc"/>
<line x1="200.51" y1="864.2" x2="200.51" y2="868.8" stroke="#bcbcbc"/>
<line x1="204.04" y1="864.2" x2="204.04" y2="868.8" stroke="#bcbcbc"/>
<line x1="207.1" y1="864.2" x2="207.1" y2="868.8" stroke="#bcbcbc"/>
<line x1="209.8" y1="864.2" x2="209.8" y2="868.8" stroke="#bcbcbc"/>
<line x1="212.22" y1="864.2" x2="212.22" y2="871.2" stroke="#9c9c9c"/>
<line x1="228.11" y1="864.2" x2="228.11" y2="868.8" stroke="#bcbcbc"/>
<line x1="237.4" y1="864.2" x2="237.4" y2="868.8" stroke="#bcbcbc"/>
<line x1="244" y1="864.2" x2="244" y2="868.8" stroke="#bcbcbc"/>
<line x1="249.11" y1="864.2" x2="249.11" y2="868.8" stroke="#bcbcbc"/>
<line x1="253.29" y1="864.2" x2="253.29" y2="868.8" stroke="#bcbcbc"/>
<line x1="256.82" y1="864.2" x2="256.82" y2="868.8" stroke="#bcbcbc"/>
<line x1="259.88" y1="864.2" x2="259.88" y2="868.8" stroke="#bcbcbc"/>
<line x1="262.58" y1="864.2" x2="262.58" y2="868.8" stroke="#bcbcbc"/>
<line x1="265" y1="864.2" x2="265" y2="871.2" stroke="#9c9c9c"/>
<path d="M106.65 702.9 V864.2 H265.6" fill="none" stroke="#000" stroke-width="2.6"/>
<text font-size="16.5" fill="#000" x="72.01" y="709.15" textLength="25.6" lengthAdjust="spacingAndGlyphs">128</text>
<text font-size="16.5" fill="#000" x="80.56" y="749.35" textLength="17.07" lengthAdjust="spacingAndGlyphs">96</text>
<text font-size="16.5" fill="#000" x="80.33" y="789.55" textLength="17.07" lengthAdjust="spacingAndGlyphs">64</text>
<text font-size="16.5" fill="#000" x="80.65" y="829.75" textLength="17.07" lengthAdjust="spacingAndGlyphs">32</text>
<text font-size="16.5" fill="#000" x="89.02" y="869.95" textLength="8.53" lengthAdjust="spacingAndGlyphs">0</text>
<text font-size="17.2" fill="#000" x="89.97" y="897" textLength="17.6" lengthAdjust="spacingAndGlyphs">10</text>
<text font-size="12.75" fill="#000" x="106.68" y="887.1" textLength="6.74" lengthAdjust="spacingAndGlyphs">0</text>
<text font-size="17.2" fill="#000" x="142.75" y="897" textLength="17.6" lengthAdjust="spacingAndGlyphs">10</text>
<text font-size="12.75" fill="#000" x="159.01" y="887.1" textLength="6.74" lengthAdjust="spacingAndGlyphs">1</text>
<text font-size="17.2" fill="#000" x="195.53" y="897" textLength="17.6" lengthAdjust="spacingAndGlyphs">10</text>
<text font-size="12.75" fill="#000" x="212.11" y="887.1" textLength="6.74" lengthAdjust="spacingAndGlyphs">2</text>
<text font-size="17.2" fill="#000" x="248.32" y="897" textLength="17.6" lengthAdjust="spacingAndGlyphs">10</text>
<text font-size="12.75" fill="#000" x="265.04" y="887.1" textLength="6.74" lengthAdjust="spacingAndGlyphs">3</text>
<g stroke="#000" fill="none">
<line x1="153.6" y1="833.35" x2="265" y2="833.35" stroke-width="3.5"/>
<line x1="153.6" y1="823.05" x2="153.6" y2="843.65" stroke-width="3.8"/>
<line x1="265" y1="823.05" x2="265" y2="843.65" stroke-width="3.8"/>
</g>
<text font-size="32" fill="#000" x="195.81" y="728.8" textLength="69.5" lengthAdjust="spacingAndGlyphs">CEM</text>
<text font-size="26" fill="#000" x="194.82" y="822.5" textLength="35.25" lengthAdjust="spacingAndGlyphs">5%</text>
</g>
<g>
<path d="M338.73 861.92 L339.69 861.92 L339.69 860.87 L340.65 860.87 L340.65 860.09 L341.62 860.09 L341.62 859.07 L342.58 859.07 L342.58 857.63 L343.54 857.63 L343.54 855.57 L344.5 855.57 L344.5 853.87 L345.46 853.87 L345.46 852.53 L346.42 852.53 L346.42 849.47 L347.38 849.47 L347.38 845.52 L348.35 845.52 L348.35 842.08 L348.83 842.08 L348.83 839.33 L349.31 839.33 L349.31 836.89 L349.79 836.89 L349.79 834.85 L350.27 834.85 L350.27 831.89 L350.75 831.89 L350.75 829.4 L351.23 829.4 L351.23 827.15 L351.71 827.15 L351.71 823.28 L352.19 823.28 L352.19 820.66 L352.67 820.66 L352.67 818.25 L353.15 818.25 L353.15 815.15 L353.63 815.15 L353.63 812.37 L354.12 812.37 L354.12 809.75 L354.6 809.75 L354.6 807.03 L355.08 807.03 L355.08 804.34 L355.56 804.34 L355.56 801.19 L356.04 801.19 L356.04 798.42 L356.52 798.42 L356.52 795.22 L357 795.22 L357 792.89 L357.48 792.89 L357.48 789.68 L357.96 789.68 L357.96 786.2 L358.44 786.2 L358.44 783.2 L358.92 783.2 L358.92 780.37 L359.4 780.37 L359.4 777.75 L359.88 777.75 L359.88 775.52 L360.53 775.52 L360.53 772.02 L361.17 772.02 L361.17 767.32 L361.81 767.32 L361.81 765.23 L362.77 765.23 L362.77 762.01 L363.73 762.01 L363.73 761.46 L365.08 761.46 L365.08 763.84 L365.85 763.84 L365.85 767.88 L366.62 767.88 L366.62 772 L367.1 772 L367.1 773.16 L367.58 773.16 L367.58 776.22 L368.06 776.22 L368.06 780.72 L368.54 780.72 L368.54 782.09 L368.92 782.09 L368.92 786.26 L369.31 786.26 L369.31 787.95 L369.69 787.95 L369.69 790.36 L370.08 790.36 L370.08 792.57 L370.46 792.57 L370.46 795.2 L370.85 795.2 L370.85 798.86 L371.23 798.86 L371.23 801.97 L371.62 801.97 L371.62 803.81 L372 803.81 L372 806.66 L372.38 806.66 L372.38 810 L372.77 810 L372.77 811.86 L373.15 811.86 L373.15 814.63 L373.54 814.63 L373.54 817.27 L373.92 817.27 L373.92 820.4 L374.31 820.4 L374.31 823.03 L374.69 823.03 L374.69 825.18 L375.08 825.18 L375.08 829.34 L375.46 829.34 L375.46 830.8 L375.85 830.8 L375.85 834.19 L376.23 834.19 L376.23 836.57 L376.71 836.57 L376.71 839.41 L377.19 839.41 L377.19 841.93 L377.67 841.93 L377.67 845.03 L378.15 845.03 L378.15 847.93 L378.79 847.93 L378.79 850.25 L379.44 850.25 L379.44 853.53 L380.08 853.53 L380.08 855.54 L381.04 855.54 L381.04 857.77 L382 857.77 L382 860.99 L382.96 860.99 L382.96 861.33 L383.92 861.33 L383.92 862.5 L383.92 863.05 L338.73 863.05 Z" fill="#828282"/>
<path d="M355.08 862.5 L356.04 862.5 L356.04 862.78 L357 862.78 L357 860.93 L357.96 860.93 L357.96 862.7 L358.92 862.7 L358.92 860.17 L359.88 860.17 L359.88 860.15 L360.85 860.15 L360.85 860.76 L361.81 860.76 L361.81 858.85 L362.77 858.85 L362.77 860.02 L363.73 860.02 L363.73 860.17 L364.69 860.17 L364.69 858.44 L365.65 858.44 L365.65 857.81 L366.62 857.81 L366.62 858.08 L367.58 858.08 L367.58 858 L368.54 858 L368.54 857.89 L369.5 857.89 L369.5 857.7 L370.46 857.7 L370.46 857.71 L371.42 857.71 L371.42 857.19 L372.38 857.19 L372.38 858.38 L373.35 858.38 L373.35 858.73 L374.31 858.73 L374.31 858.52 L375.27 858.52 L375.27 860.39 L376.23 860.39 L376.23 860.4 L377.19 860.4 L377.19 860.76 L378.15 860.76 L378.15 859.79 L379.12 859.79 L379.12 859.76 L380.08 859.76 L380.08 860.42 L381.04 860.42 L381.04 860.31 L382 860.31 L382 861.31 L382.96 861.31 L382.96 862.71 L383.92 862.71 L383.92 861.93 L384.88 861.93 L384.88 861.34 L385.85 861.34 L385.85 858.94 L386.81 858.94 L386.81 860.99 L387.77 860.99 L387.77 861.58 L388.73 861.58 L388.73 862.2 L389.69 862.2 L389.69 861.38 L390.65 861.38 L390.65 861.65 L391.62 861.65 L391.62 860.99 L392.58 860.99 L392.58 861.33 L393.54 861.33 L393.54 861.54 L394.5 861.54 L394.5 860.26 L395.46 860.26 L395.46 859.41 L396.42 859.41 L396.42 861.09 L397.38 861.09 L397.38 859.59 L398.35 859.59 L398.35 860.94 L399.31 860.94 L399.31 861.72 L400.27 861.72 L400.27 860.97 L401.23 860.97 L401.23 860.39 L402.19 860.39 L402.19 860.67 L403.15 860.67 L403.15 860.62 L404 860.62 L404 861.55 L404.96 861.55 L404.96 859.94 L405.92 859.94 L405.92 859.72 L406.88 859.72 L406.88 858.89 L407.85 858.89 L407.85 858.04 L408.81 858.04 L408.81 858.02 L409.77 858.02 L409.77 858.63 L410.73 858.63 L410.73 859.32 L411.69 859.32 L411.69 858.88 L412.65 858.88 L412.65 860.57 L413.62 860.57 L413.62 860.28 L414.58 860.28 L414.58 857.31 L415.54 857.31 L415.54 857.9 L416.5 857.9 L416.5 857.73 L417.46 857.73 L417.46 858.76 L418.42 858.76 L418.42 857.21 L419.38 857.21 L419.38 857.5 L420.35 857.5 L420.35 855.97 L421.31 855.97 L421.31 856.33 L422.27 856.33 L422.27 854.98 L423.23 854.98 L423.23 854.19 L424.19 854.19 L424.19 855.33 L425.15 855.33 L425.15 854.66 L426.12 854.66 L426.12 856.87 L427.08 856.87 L427.08 857.11 L428.04 857.11 L428.04 855.88 L429 855.88 L429 854.55 L429.96 854.55 L429.96 854.26 L430.92 854.26 L430.92 854.56 L431.88 854.56 L431.88 852.45 L432.85 852.45 L432.85 854.68 L433.81 854.68 L433.81 851.93 L434.77 851.93 L434.77 851.19 L435.73 851.19 L435.73 850.39 L436.69 850.39 L436.69 850.03 L437.65 850.03 L437.65 849.66 L438.62 849.66 L438.62 850.73 L439.58 850.73 L439.58 850.36 L440.54 850.36 L440.54 849.88 L441.5 849.88 L441.5 848.53 L442.46 848.53 L442.46 849.19 L443.42 849.19 L443.42 848.5 L444.38 848.5 L444.38 847.48 L445.35 847.48 L445.35 847.03 L446.31 847.03 L446.31 846.33 L447.27 846.33 L447.27 844.5 L448.23 844.5 L448.23 844.2 L449.19 844.2 L449.19 844.61 L450.15 844.61 L450.15 843.32 L451.12 843.32 L451.12 843.45 L452.08 843.45 L452.08 841.26 L453.04 841.26 L453.04 840.64 L454 840.64 L454 838.55 L454.96 838.55 L454.96 839.69 L455.92 839.69 L455.92 837.47 L457.46 837.47 L457.46 833.82 L458.81 833.82 L458.81 836.14 L460.15 836.14 L460.15 833.33 L461.69 833.33 L461.69 832.36 L463.23 832.36 L463.23 830.97 L464.58 830.97 L464.58 831.71 L465.92 831.71 L465.92 829.19 L467.46 829.19 L467.46 828.72 L468.42 828.72 L468.42 827.27 L469.38 827.27 L469.38 824.49 L470.35 824.49 L470.35 823.2 L471.31 823.2 L471.31 822.04 L472.27 822.04 L472.27 823.14 L473.23 823.14 L473.23 822.55 L474.19 822.55 L474.19 823.59 L475.15 823.59 L475.15 821.98 L476.12 821.98 L476.12 822.62 L477.08 822.62 L477.08 821.83 L478.62 821.83 L478.62 824.24 L479.96 824.24 L479.96 828.53 L480.92 828.53 L480.92 830.61 L481.88 830.61 L481.88 831.34 L482.85 831.34 L482.85 834.2 L483.81 834.2 L483.81 834.32 L484.77 834.32 L484.77 837.78 L485.73 837.78 L485.73 838.16 L486.69 838.16 L486.69 842.17 L487.65 842.17 L487.65 844.08 L488.62 844.08 L488.62 846.47 L489.58 846.47 L489.58 848.22 L490.54 848.22 L490.54 847.15 L491.5 847.15 L491.5 849.95 L492.46 849.95 L492.46 851.02 L493.42 851.02 L493.42 852.69 L494.38 852.69 L494.38 853.25 L495.35 853.25 L495.35 854.58 L496.31 854.58 L496.31 857.22 L497.27 857.22 L497.27 857.98 L498.23 857.98 L498.23 859.81" fill="none" stroke="#111" stroke-width="1.2"/>
<path d="M336.8 703.2 H498.6 V863.05" fill="none" stroke="#383838" stroke-width="1.2"/>
<line x1="329.8" y1="703.2" x2="336.8" y2="703.2" stroke="#9a9a9a"/>
<line x1="332.5" y1="713.19" x2="336.8" y2="713.19" stroke="#c2c2c2"/>
<line x1="332.5" y1="723.18" x2="336.8" y2="723.18" stroke="#c2c2c2"/>
<line x1="332.5" y1="733.17" x2="336.8" y2="733.17" stroke="#c2c2c2"/>
<line x1="329.8" y1="743.16" x2="336.8" y2="743.16" stroke="#9a9a9a"/>
<line x1="332.5" y1="753.15" x2="336.8" y2="753.15" stroke="#c2c2c2"/>
<line x1="332.5" y1="763.14" x2="336.8" y2="763.14" stroke="#c2c2c2"/>
<line x1="332.5" y1="773.13" x2="336.8" y2="773.13" stroke="#c2c2c2"/>
<line x1="329.8" y1="783.12" x2="336.8" y2="783.12" stroke="#9a9a9a"/>
<line x1="332.5" y1="793.12" x2="336.8" y2="793.12" stroke="#c2c2c2"/>
<line x1="332.5" y1="803.11" x2="336.8" y2="803.11" stroke="#c2c2c2"/>
<line x1="332.5" y1="813.1" x2="336.8" y2="813.1" stroke="#c2c2c2"/>
<line x1="329.8" y1="823.09" x2="336.8" y2="823.09" stroke="#9a9a9a"/>
<line x1="332.5" y1="833.08" x2="336.8" y2="833.08" stroke="#c2c2c2"/>
<line x1="332.5" y1="843.07" x2="336.8" y2="843.07" stroke="#c2c2c2"/>
<line x1="332.5" y1="853.06" x2="336.8" y2="853.06" stroke="#c2c2c2"/>
<line x1="329.8" y1="863.05" x2="336.8" y2="863.05" stroke="#9a9a9a"/>
<line x1="336.8" y1="863.05" x2="336.8" y2="870.05" stroke="#9c9c9c"/>
<line x1="353.04" y1="863.05" x2="353.04" y2="867.65" stroke="#bcbcbc"/>
<line x1="362.53" y1="863.05" x2="362.53" y2="867.65" stroke="#bcbcbc"/>
<line x1="369.27" y1="863.05" x2="369.27" y2="867.65" stroke="#bcbcbc"/>
<line x1="374.5" y1="863.05" x2="374.5" y2="867.65" stroke="#bcbcbc"/>
<line x1="378.77" y1="863.05" x2="378.77" y2="867.65" stroke="#bcbcbc"/>
<line x1="382.38" y1="863.05" x2="382.38" y2="867.65" stroke="#bcbcbc"/>
<line x1="385.51" y1="863.05" x2="385.51" y2="867.65" stroke="#bcbcbc"/>
<line x1="388.27" y1="863.05" x2="388.27" y2="867.65" stroke="#bcbcbc"/>
<line x1="390.73" y1="863.05" x2="390.73" y2="870.05" stroke="#9c9c9c"/>
<line x1="406.97" y1="863.05" x2="406.97" y2="867.65" stroke="#bcbcbc"/>
<line x1="416.47" y1="863.05" x2="416.47" y2="867.65" stroke="#bcbcbc"/>
<line x1="423.2" y1="863.05" x2="423.2" y2="867.65" stroke="#bcbcbc"/>
<line x1="428.43" y1="863.05" x2="428.43" y2="867.65" stroke="#bcbcbc"/>
<line x1="432.7" y1="863.05" x2="432.7" y2="867.65" stroke="#bcbcbc"/>
<line x1="436.31" y1="863.05" x2="436.31" y2="867.65" stroke="#bcbcbc"/>
<line x1="439.44" y1="863.05" x2="439.44" y2="867.65" stroke="#bcbcbc"/>
<line x1="442.2" y1="863.05" x2="442.2" y2="867.65" stroke="#bcbcbc"/>
<line x1="444.67" y1="863.05" x2="444.67" y2="870.05" stroke="#9c9c9c"/>
<line x1="460.9" y1="863.05" x2="460.9" y2="867.65" stroke="#bcbcbc"/>
<line x1="470.4" y1="863.05" x2="470.4" y2="867.65" stroke="#bcbcbc"/>
<line x1="477.14" y1="863.05" x2="477.14" y2="867.65" stroke="#bcbcbc"/>
<line x1="482.36" y1="863.05" x2="482.36" y2="867.65" stroke="#bcbcbc"/>
<line x1="486.63" y1="863.05" x2="486.63" y2="867.65" stroke="#bcbcbc"/>
<line x1="490.25" y1="863.05" x2="490.25" y2="867.65" stroke="#bcbcbc"/>
<line x1="493.37" y1="863.05" x2="493.37" y2="867.65" stroke="#bcbcbc"/>
<line x1="496.13" y1="863.05" x2="496.13" y2="867.65" stroke="#bcbcbc"/>
<line x1="498.6" y1="863.05" x2="498.6" y2="870.05" stroke="#9c9c9c"/>
<path d="M336.8 702.7 V863.05 H499.2" fill="none" stroke="#000" stroke-width="2.6"/>
<text font-size="16.5" fill="#000" x="302.16" y="708.95" textLength="25.6" lengthAdjust="spacingAndGlyphs">128</text>
<text font-size="16.5" fill="#000" x="310.71" y="748.91" textLength="17.07" lengthAdjust="spacingAndGlyphs">96</text>
<text font-size="16.5" fill="#000" x="310.48" y="788.88" textLength="17.07" lengthAdjust="spacingAndGlyphs">64</text>
<text font-size="16.5" fill="#000" x="310.8" y="828.84" textLength="17.07" lengthAdjust="spacingAndGlyphs">32</text>
<text font-size="16.5" fill="#000" x="319.17" y="868.8" textLength="8.53" lengthAdjust="spacingAndGlyphs">0</text>
<text font-size="17.2" fill="#000" x="320.12" y="895.85" textLength="17.6" lengthAdjust="spacingAndGlyphs">10</text>
<text font-size="12.75" fill="#000" x="336.83" y="885.95" textLength="6.74" lengthAdjust="spacingAndGlyphs">0</text>
<text font-size="17.2" fill="#000" x="374.05" y="895.85" textLength="17.6" lengthAdjust="spacingAndGlyphs">10</text>
<text font-size="12.75" fill="#000" x="390.31" y="885.95" textLength="6.74" lengthAdjust="spacingAndGlyphs">1</text>
<text font-size="17.2" fill="#000" x="427.98" y="895.85" textLength="17.6" lengthAdjust="spacingAndGlyphs">10</text>
<text font-size="12.75" fill="#000" x="444.56" y="885.95" textLength="6.74" lengthAdjust="spacingAndGlyphs">2</text>
<text font-size="17.2" fill="#000" x="481.92" y="895.85" textLength="17.6" lengthAdjust="spacingAndGlyphs">10</text>
<text font-size="12.75" fill="#000" x="498.64" y="885.95" textLength="6.74" lengthAdjust="spacingAndGlyphs">3</text>
<g stroke="#000" fill="none">
<line x1="381.35" y1="830.9" x2="498.6" y2="830.9" stroke-width="2.4"/>
<line x1="381.35" y1="821.2" x2="381.35" y2="840.6" stroke-width="2.7"/>
<line x1="498.6" y1="821.2" x2="498.6" y2="840.6" stroke-width="2.7"/>
</g>
<text font-size="32" fill="#000" x="364.13" y="727.8" textLength="133.75" lengthAdjust="spacingAndGlyphs">CEM stim</text>
<text font-size="26" fill="#000" x="413.35" y="820.4" textLength="49.23" lengthAdjust="spacingAndGlyphs">94%</text>
</g>
<g>
<path d="M102 1082.69 L103.03 1082.69 L103.03 1081.72 L104.05 1081.72 L104.05 1080.47 L105.08 1080.47 L105.08 1079.03 L105.97 1079.03 L105.97 1077.38 L106.87 1077.38 L106.87 1076.25 L107.77 1076.25 L107.77 1075.18 L108.92 1075.18 L108.92 1073.06 L110.08 1073.06 L110.08 1070.87 L110.72 1070.87 L110.72 1068.39 L111.36 1068.39 L111.36 1066.25 L112 1066.25 L112 1063.16 L112.46 1063.16 L112.46 1060.75 L112.92 1060.75 L112.92 1058.73 L113.38 1058.73 L113.38 1055.09 L113.85 1055.09 L113.85 1053.2 L114.31 1053.2 L114.31 1050.6 L114.79 1050.6 L114.79 1047.82 L115.27 1047.82 L115.27 1044.39 L115.75 1044.39 L115.75 1040.96 L116.23 1040.96 L116.23 1037.95 L116.71 1037.95 L116.71 1035.48 L117.19 1035.48 L117.19 1032.56 L117.67 1032.56 L117.67 1029.65 L118.15 1029.65 L118.15 1025.98 L118.54 1025.98 L118.54 1023.76 L118.92 1023.76 L118.92 1021.7 L119.31 1021.7 L119.31 1018.56 L119.69 1018.56 L119.69 1014.55 L120.08 1014.55 L120.08 1013.83 L120.51 1013.83 L120.51 1010.43 L120.94 1010.43 L120.94 1007.73 L121.38 1007.73 L121.38 1004.08 L121.81 1004.08 L121.81 1003.52 L122.32 1003.52 L122.32 999.22 L122.83 999.22 L122.83 995.35 L123.35 995.35 L123.35 994.38 L124.31 994.38 L124.31 991.79 L125.27 991.79 L125.27 988.62 L126.33 988.62 L126.33 986.25 L127.38 986.25 L127.38 987.51 L128.54 987.51 L128.54 985.84 L129.69 985.84 L129.69 985.78 L130.65 985.78 L130.65 984.14 L131.52 984.14 L131.52 986.05 L132.38 986.05 L132.38 988.56 L132.9 988.56 L132.9 990.59 L133.41 990.59 L133.41 992.88 L133.92 992.88 L133.92 995.66 L134.31 995.66 L134.31 1000.51 L134.69 1000.51 L134.69 1002.76 L135.08 1002.76 L135.08 1006.08 L135.53 1006.08 L135.53 1007.82 L135.97 1007.82 L135.97 1012.45 L136.42 1012.45 L136.42 1016.05 L136.9 1016.05 L136.9 1018.81 L137.38 1018.81 L137.38 1021.88 L137.87 1021.88 L137.87 1023.19 L138.35 1023.19 L138.35 1026.2 L138.83 1026.2 L138.83 1030.06 L139.31 1030.06 L139.31 1032.98 L139.79 1032.98 L139.79 1036.56 L140.27 1036.56 L140.27 1038.92 L140.65 1038.92 L140.65 1041 L141.04 1041 L141.04 1043.66 L141.42 1043.66 L141.42 1046.51 L141.81 1046.51 L141.81 1048.79 L142.19 1048.79 L142.19 1051.36 L142.58 1051.36 L142.58 1055 L142.96 1055 L142.96 1057.26 L143.35 1057.26 L143.35 1059.59 L143.73 1059.59 L143.73 1062.6 L144.12 1062.6 L144.12 1065.7 L144.6 1065.7 L144.6 1068.12 L145.08 1068.12 L145.08 1071.28 L145.56 1071.28 L145.56 1074.21 L146.04 1074.21 L146.04 1077.23 L146.68 1077.23 L146.68 1079.82 L147.32 1079.82 L147.32 1081.99 L147.96 1081.99 L147.96 1084.57 L148.92 1084.57 L148.92 1086.57 L149.88 1086.57 L149.88 1088.63 L150.85 1088.63 L150.85 1089.63 L151.81 1089.63 L151.81 1090.96 L151.81 1091.2 L102 1091.2 Z" fill="#828282"/>
<path d="M102 1090.38 L102.87 1090.38 L102.87 1089.29 L103.73 1089.29 L103.73 1088.94 L104.69 1088.94 L104.69 1087.42 L105.65 1087.42 L105.65 1086.05 L106.81 1086.05 L106.81 1084.83 L107.96 1084.83 L107.96 1083.18 L109.02 1083.18 L109.02 1082.05 L110.08 1082.05 L110.08 1080.18 L111.04 1080.18 L111.04 1078.98 L112 1078.98 L112 1077.25 L112.87 1077.25 L112.87 1075.01 L113.73 1075.01 L113.73 1073.46 L115.27 1073.46 L115.27 1069.98 L116.13 1069.98 L116.13 1066.7 L117 1066.7 L117 1063.92 L117.51 1063.92 L117.51 1060.16 L118.03 1060.16 L118.03 1057.51 L118.54 1057.51 L118.54 1053.82 L119.05 1053.82 L119.05 1050.54 L119.56 1050.54 L119.56 1047.65 L120.08 1047.65 L120.08 1043.98 L120.59 1043.98 L120.59 1040.82 L121.1 1040.82 L121.1 1038.57 L121.62 1038.57 L121.62 1034.36 L122.19 1034.36 L122.19 1032.24 L122.77 1032.24 L122.77 1028.32 L123.35 1028.32 L123.35 1024.09 L123.92 1024.09 L123.92 1022.59 L124.5 1022.59 L124.5 1019.62 L125.08 1019.62 L125.08 1017.11 L125.72 1017.11 L125.72 1013.78 L126.36 1013.78 L126.36 1012.31 L127 1012.31 L127 1010.86 L127.87 1010.86 L127.87 1008.92 L128.73 1008.92 L128.73 1006.62 L130.08 1006.62 L130.08 1009.17 L131.62 1009.17 L131.62 1005.47 L133.15 1005.47 L133.15 1003.23 L134.5 1003.23 L134.5 1006.03 L136.04 1006.03 L136.04 1009.86 L136.71 1009.86 L136.71 1014.14 L137.38 1014.14 L137.38 1016.96 L138.92 1016.96 L138.92 1020.77 L139.88 1020.77 L139.88 1021.51 L140.85 1021.51 L140.85 1021.21 L142.19 1021.21 L142.19 1026.91 L142.64 1026.91 L142.64 1029.45 L143.09 1029.45 L143.09 1031.76 L143.54 1031.76 L143.54 1035.43 L144.31 1035.43 L144.31 1037.9 L145.08 1037.9 L145.08 1041.09 L145.85 1041.09 L145.85 1043.21 L146.62 1043.21 L146.62 1046.55 L147.96 1046.55 L147.96 1050.65 L149.31 1050.65 L149.31 1056.15 L150.08 1056.15 L150.08 1059.23 L150.85 1059.23 L150.85 1061.39 L151.62 1061.39 L151.62 1065.27 L152.38 1065.27 L152.38 1067.3 L153.06 1067.3 L153.06 1070.06 L153.73 1070.06 L153.73 1072.82 L154.69 1072.82 L154.69 1076.58 L155.65 1076.58 L155.65 1079.09 L156.62 1079.09 L156.62 1080.85 L157.58 1080.85 L157.58 1083.21 L158.54 1083.21 L158.54 1083.96 L159.5 1083.96 L159.5 1085.51 L160.46 1085.51 L160.46 1085.66 L161.42 1085.66 L161.42 1086.71 L162.38 1086.71 L162.38 1087.05 L163.35 1087.05 L163.35 1088.18 L164.31 1088.18 L164.31 1087.55 L165.27 1087.55 L165.27 1089.2 L166.23 1089.2 L166.23 1089.57 L167.19 1089.57 L167.19 1090.27 L168.01 1090.27 L168.01 1090.78 L168.82 1090.78 L168.82 1090.35 L169.63 1090.35 L169.63 1090.27 L170.45 1090.27 L170.45 1090.44 L171.26 1090.44 L171.26 1090.5 L172.07 1090.5 L172.07 1090.51 L172.89 1090.51 L172.89 1090.28 L173.7 1090.28 L173.7 1090.55 L174.51 1090.55 L174.51 1090.58 L175.33 1090.58 L175.33 1090.86 L176.14 1090.86 L176.14 1090.53 L176.96 1090.53 L176.96 1090.65 L177.77 1090.65 L177.77 1090.58 L178.57 1090.58 L178.57 1090.69 L179.37 1090.69 L179.37 1090.49 L180.17 1090.49 L180.17 1090.7 L180.97 1090.7 L180.97 1090.49 L181.78 1090.49 L181.78 1090.37 L182.58 1090.37 L182.58 1090.85 L183.38 1090.85 L183.38 1090.51 L184.18 1090.51 L184.18 1090.93 L184.98 1090.93 L184.98 1090.66 L185.78 1090.66 L185.78 1090.59 L186.58 1090.59 L186.58 1090.95 L187.38 1090.95 L187.38 1090.54 L188.19 1090.54 L188.19 1090.79 L188.99 1090.79 L188.99 1090.79 L189.79 1090.79 L189.79 1090.6 L190.59 1090.6 L190.59 1090.71 L191.39 1090.71 L191.39 1090.69 L192.19 1090.69 L192.19 1090.45 L192.99 1090.45 L192.99 1090.88 L193.79 1090.88 L193.79 1090.59 L194.6 1090.59 L194.6 1090.6 L195.4 1090.6 L195.4 1090.84 L196.2 1090.84 L196.2 1090.82 L197 1090.82 L197 1090.77" fill="none" stroke="#111" stroke-width="1.4"/>
<path d="M101.7 931.1 H267.85 V1091.2" fill="none" stroke="#383838" stroke-width="1.2"/>
<line x1="94.7" y1="931.1" x2="101.7" y2="931.1" stroke="#9a9a9a"/>
<line x1="97.4" y1="941.11" x2="101.7" y2="941.11" stroke="#c2c2c2"/>
<line x1="97.4" y1="951.11" x2="101.7" y2="951.11" stroke="#c2c2c2"/>
<line x1="97.4" y1="961.12" x2="101.7" y2="961.12" stroke="#c2c2c2"/>
<line x1="94.7" y1="971.12" x2="101.7" y2="971.12" stroke="#9a9a9a"/>
<line x1="97.4" y1="981.13" x2="101.7" y2="981.13" stroke="#c2c2c2"/>
<line x1="97.4" y1="991.14" x2="101.7" y2="991.14" stroke="#c2c2c2"/>
<line x1="97.4" y1="1001.14" x2="101.7" y2="1001.14" stroke="#c2c2c2"/>
<line x1="94.7" y1="1011.15" x2="101.7" y2="1011.15" stroke="#9a9a9a"/>
<line x1="97.4" y1="1021.16" x2="101.7" y2="1021.16" stroke="#c2c2c2"/>
<line x1="97.4" y1="1031.16" x2="101.7" y2="1031.16" stroke="#c2c2c2"/>
<line x1="97.4" y1="1041.17" x2="101.7" y2="1041.17" stroke="#c2c2c2"/>
<line x1="94.7" y1="1051.17" x2="101.7" y2="1051.17" stroke="#9a9a9a"/>
<line x1="97.4" y1="1061.18" x2="101.7" y2="1061.18" stroke="#c2c2c2"/>
<line x1="97.4" y1="1071.19" x2="101.7" y2="1071.19" stroke="#c2c2c2"/>
<line x1="97.4" y1="1081.19" x2="101.7" y2="1081.19" stroke="#c2c2c2"/>
<line x1="94.7" y1="1091.2" x2="101.7" y2="1091.2" stroke="#9a9a9a"/>
<line x1="101.7" y1="1091.2" x2="101.7" y2="1098.2" stroke="#9c9c9c"/>
<line x1="118.37" y1="1091.2" x2="118.37" y2="1095.8" stroke="#bcbcbc"/>
<line x1="128.12" y1="1091.2" x2="128.12" y2="1095.8" stroke="#bcbcbc"/>
<line x1="135.04" y1="1091.2" x2="135.04" y2="1095.8" stroke="#bcbcbc"/>
<line x1="140.41" y1="1091.2" x2="140.41" y2="1095.8" stroke="#bcbcbc"/>
<line x1="144.8" y1="1091.2" x2="144.8" y2="1095.8" stroke="#bcbcbc"/>
<line x1="148.5" y1="1091.2" x2="148.5" y2="1095.8" stroke="#bcbcbc"/>
<line x1="151.72" y1="1091.2" x2="151.72" y2="1095.8" stroke="#bcbcbc"/>
<line x1="154.55" y1="1091.2" x2="154.55" y2="1095.8" stroke="#bcbcbc"/>
<line x1="157.08" y1="1091.2" x2="157.08" y2="1098.2" stroke="#9c9c9c"/>
<line x1="173.76" y1="1091.2" x2="173.76" y2="1095.8" stroke="#bcbcbc"/>
<line x1="183.51" y1="1091.2" x2="183.51" y2="1095.8" stroke="#bcbcbc"/>
<line x1="190.43" y1="1091.2" x2="190.43" y2="1095.8" stroke="#bcbcbc"/>
<line x1="195.79" y1="1091.2" x2="195.79" y2="1095.8" stroke="#bcbcbc"/>
<line x1="200.18" y1="1091.2" x2="200.18" y2="1095.8" stroke="#bcbcbc"/>
<line x1="203.89" y1="1091.2" x2="203.89" y2="1095.8" stroke="#bcbcbc"/>
<line x1="207.1" y1="1091.2" x2="207.1" y2="1095.8" stroke="#bcbcbc"/>
<line x1="209.93" y1="1091.2" x2="209.93" y2="1095.8" stroke="#bcbcbc"/>
<line x1="212.47" y1="1091.2" x2="212.47" y2="1098.2" stroke="#9c9c9c"/>
<line x1="229.14" y1="1091.2" x2="229.14" y2="1095.8" stroke="#bcbcbc"/>
<line x1="238.89" y1="1091.2" x2="238.89" y2="1095.8" stroke="#bcbcbc"/>
<line x1="245.81" y1="1091.2" x2="245.81" y2="1095.8" stroke="#bcbcbc"/>
<line x1="251.18" y1="1091.2" x2="251.18" y2="1095.8" stroke="#bcbcbc"/>
<line x1="255.56" y1="1091.2" x2="255.56" y2="1095.8" stroke="#bcbcbc"/>
<line x1="259.27" y1="1091.2" x2="259.27" y2="1095.8" stroke="#bcbcbc"/>
<line x1="262.48" y1="1091.2" x2="262.48" y2="1095.8" stroke="#bcbcbc"/>
<line x1="265.32" y1="1091.2" x2="265.32" y2="1095.8" stroke="#bcbcbc"/>
<line x1="267.85" y1="1091.2" x2="267.85" y2="1098.2" stroke="#9c9c9c"/>
<path d="M101.7 930.6 V1091.2 H268.45" fill="none" stroke="#000" stroke-width="2.6"/>
<text font-size="16.5" fill="#000" x="67.06" y="936.85" textLength="25.6" lengthAdjust="spacingAndGlyphs">128</text>
<text font-size="16.5" fill="#000" x="75.61" y="976.88" textLength="17.07" lengthAdjust="spacingAndGlyphs">96</text>
<text font-size="16.5" fill="#000" x="75.38" y="1016.9" textLength="17.07" lengthAdjust="spacingAndGlyphs">64</text>
<text font-size="16.5" fill="#000" x="75.7" y="1056.92" textLength="17.07" lengthAdjust="spacingAndGlyphs">32</text>
<text font-size="16.5" fill="#000" x="84.07" y="1096.95" textLength="8.53" lengthAdjust="spacingAndGlyphs">0</text>
<text font-size="17.2" fill="#000" x="85.02" y="1124" textLength="17.6" lengthAdjust="spacingAndGlyphs">10</text>
<text font-size="12.75" fill="#000" x="101.73" y="1114.1" textLength="6.74" lengthAdjust="spacingAndGlyphs">0</text>
<text font-size="17.2" fill="#000" x="140.4" y="1124" textLength="17.6" lengthAdjust="spacingAndGlyphs">10</text>
<text font-size="12.75" fill="#000" x="156.66" y="1114.1" textLength="6.74" lengthAdjust="spacingAndGlyphs">1</text>
<text font-size="17.2" fill="#000" x="195.78" y="1124" textLength="17.6" lengthAdjust="spacingAndGlyphs">10</text>
<text font-size="12.75" fill="#000" x="212.36" y="1114.1" textLength="6.74" lengthAdjust="spacingAndGlyphs">2</text>
<text font-size="17.2" fill="#000" x="251.17" y="1124" textLength="17.6" lengthAdjust="spacingAndGlyphs">10</text>
<text font-size="12.75" fill="#000" x="267.89" y="1114.1" textLength="6.74" lengthAdjust="spacingAndGlyphs">3</text>
<g stroke="#000" fill="none">
<line x1="148.6" y1="1063.1" x2="267.85" y2="1063.1" stroke-width="2.4"/>
<line x1="148.6" y1="1053.5" x2="148.6" y2="1072.7" stroke-width="2.7"/>
<line x1="267.85" y1="1053.5" x2="267.85" y2="1072.7" stroke-width="2.7"/>
</g>
<text font-size="32" fill="#000" x="197.94" y="955.5" textLength="58.89" lengthAdjust="spacingAndGlyphs">PBL</text>
<text font-size="26" fill="#000" x="189.38" y="1057.7" textLength="47.87" lengthAdjust="spacingAndGlyphs">13%</text>
</g>
<g>
<path d="M340.25 1085 L341.08 1085 L341.08 1083.29 L341.92 1083.29 L341.92 1081.93 L342.75 1081.93 L342.75 1079.89 L343.58 1079.89 L343.58 1078.3 L344.42 1078.3 L344.42 1076 L345.25 1076 L345.25 1074.99 L346.08 1074.99 L346.08 1072.6 L346.92 1072.6 L346.92 1070.7 L347.75 1070.7 L347.75 1068.83 L348.58 1068.83 L348.58 1066.33 L349.42 1066.33 L349.42 1064.48 L350.25 1064.48 L350.25 1063.14 L351.08 1063.14 L351.08 1060.78 L351.92 1060.78 L351.92 1058.99 L352.75 1058.99 L352.75 1056.6 L353.58 1056.6 L353.58 1053.85 L354.42 1053.85 L354.42 1051.94 L355.25 1051.94 L355.25 1049.98 L356.08 1049.98 L356.08 1048.66 L356.92 1048.66 L356.92 1047.3 L357.75 1047.3 L357.75 1044.92 L358.58 1044.92 L358.58 1043.74 L359.42 1043.74 L359.42 1044.12 L360.25 1044.12 L360.25 1043.53 L361.08 1043.53 L361.08 1044.13 L361.92 1044.13 L361.92 1043.44 L362.75 1043.44 L362.75 1043.51 L363.58 1043.51 L363.58 1042.76 L364.42 1042.76 L364.42 1042.36 L365.25 1042.36 L365.25 1042.12 L366.12 1042.12 L366.12 1044.6 L367 1044.6 L367 1045.28 L368 1045.28 L368 1047.8 L369 1047.8 L369 1051.49 L370 1051.49 L370 1053.3 L371 1053.3 L371 1057.6 L371.88 1057.6 L371.88 1056.11 L372.75 1056.11 L372.75 1053.45 L373.62 1053.45 L373.62 1055.72 L374.5 1055.72 L374.5 1057.07 L375.5 1057.07 L375.5 1059 L376.5 1059 L376.5 1060.76 L377.5 1060.76 L377.5 1063.7 L378.5 1063.7 L378.5 1066.16 L379.5 1066.16 L379.5 1068.98 L380.5 1068.98 L380.5 1072.58 L381.25 1072.58 L381.25 1074.7 L382 1074.7 L382 1076.96 L382.75 1076.96 L382.75 1080.05 L383.58 1080.05 L383.58 1081.25 L384.42 1081.25 L384.42 1082.59 L385.25 1082.59 L385.25 1084.55 L386.08 1084.55 L386.08 1085.09 L386.92 1085.09 L386.92 1085.46 L387.75 1085.46 L387.75 1086.01 L388.69 1086.01 L388.69 1086.62 L389.62 1086.62 L389.62 1086.3 L390.56 1086.3 L390.56 1086.82 L391.5 1086.82 L391.5 1087.14 L392.44 1087.14 L392.44 1086.95 L393.38 1086.95 L393.38 1087.12 L394.31 1087.12 L394.31 1087.31 L395.25 1087.31 L395.25 1087.63 L396.19 1087.63 L396.19 1087.51 L397.12 1087.51 L397.12 1087.97 L398.06 1087.97 L398.06 1088.32 L399 1088.32 L399 1088.86 L399.94 1088.86 L399.94 1089.12 L400.88 1089.12 L400.88 1089.36 L401.81 1089.36 L401.81 1089.81 L402.75 1089.81 L402.75 1090 L402.75 1090.1 L340.25 1090.1 Z" fill="#828282"/>
<path d="M340.25 1089.5 L341.05 1089.5 L341.05 1088.85 L341.85 1088.85 L341.85 1089.14 L342.65 1089.14 L342.65 1089.73 L343.46 1089.73 L343.46 1089.32 L344.26 1089.32 L344.26 1089.79 L345.06 1089.79 L345.06 1089.94 L345.86 1089.94 L345.86 1088.74 L346.66 1088.74 L346.66 1089.73 L347.46 1089.73 L347.46 1089.11 L348.26 1089.11 L348.26 1089.47 L349.06 1089.47 L349.06 1090.01 L349.87 1090.01 L349.87 1089.1 L350.67 1089.1 L350.67 1089.53 L351.47 1089.53 L351.47 1088.67 L352.27 1088.67 L352.27 1090.1 L353.07 1090.1 L353.07 1089.02 L353.87 1089.02 L353.87 1089.45 L354.67 1089.45 L354.67 1089.34 L355.47 1089.34 L355.47 1089.99 L356.28 1089.99 L356.28 1089.44 L357.08 1089.44 L357.08 1088.49 L357.88 1088.49 L357.88 1089.22 L358.68 1089.22 L358.68 1089.45 L359.48 1089.45 L359.48 1089.37 L360.28 1089.37 L360.28 1089.68 L361.08 1089.68 L361.08 1088.7 L361.88 1088.7 L361.88 1089.3 L362.69 1089.3 L362.69 1089.35 L363.49 1089.35 L363.49 1089.43 L364.29 1089.43 L364.29 1088.18 L365.09 1088.18 L365.09 1090.1 L365.89 1090.1 L365.89 1090.06 L366.69 1090.06 L366.69 1089.46 L367.49 1089.46 L367.49 1089.43 L368.29 1089.43 L368.29 1088.34 L369.1 1088.34 L369.1 1088.34 L369.9 1088.34 L369.9 1089.11 L370.7 1089.11 L370.7 1088.93 L371.5 1088.93 L371.5 1088.99 L372.33 1088.99 L372.33 1089.18 L373.17 1089.18 L373.17 1089.59 L374 1089.59 L374 1089.03 L374.83 1089.03 L374.83 1088.86 L375.67 1088.86 L375.67 1088.83 L376.5 1088.83 L376.5 1087.4 L377.44 1087.4 L377.44 1086.48 L378.38 1086.48 L378.38 1086.29 L379.31 1086.29 L379.31 1086.95 L380.25 1086.95 L380.25 1086.66 L381.19 1086.66 L381.19 1086.14 L382.12 1086.14 L382.12 1086.59 L383.06 1086.59 L383.06 1087.47 L384 1087.47 L384 1085.42 L384.83 1085.42 L384.83 1086.52 L385.67 1086.52 L385.67 1085.01 L386.5 1085.01 L386.5 1083.99 L387.38 1083.99 L387.38 1082.53 L388.25 1082.53 L388.25 1081.34 L389.12 1081.34 L389.12 1082.13 L390 1082.13 L390 1079.98 L390.83 1079.98 L390.83 1078.85 L391.67 1078.85 L391.67 1074.94 L392.5 1074.94 L392.5 1074.04 L393.33 1074.04 L393.33 1071.29 L394.17 1071.29 L394.17 1069.14 L395 1069.14 L395 1068.02 L396 1068.02 L396 1064.91 L397 1064.91 L397 1063.32 L397.88 1063.32 L397.88 1064.72 L398.75 1064.72 L398.75 1065.84 L399.58 1065.84 L399.58 1067.09 L400.42 1067.09 L400.42 1066.26 L401.25 1066.26 L401.25 1066.28 L402.08 1066.28 L402.08 1066.33 L402.92 1066.33 L402.92 1067.3 L403.75 1067.3 L403.75 1068.18 L404.58 1068.18 L404.58 1068.69 L405.42 1068.69 L405.42 1069.78 L406.25 1069.78 L406.25 1071.46 L407.08 1071.46 L407.08 1070.76 L407.92 1070.76 L407.92 1070.19 L408.75 1070.19 L408.75 1067.93 L409.58 1067.93 L409.58 1069.25 L410.42 1069.25 L410.42 1069.3 L411.25 1069.3 L411.25 1068.4 L412.08 1068.4 L412.08 1069 L412.92 1069 L412.92 1069.6 L413.75 1069.6 L413.75 1067.2 L414.58 1067.2 L414.58 1066.52 L415.42 1066.52 L415.42 1068.22 L416.25 1068.22 L416.25 1066.65 L417.08 1066.65 L417.08 1065.79 L417.92 1065.79 L417.92 1064.92 L418.75 1064.92 L418.75 1066.6 L419.58 1066.6 L419.58 1064.56 L420.42 1064.56 L420.42 1064.24 L421.25 1064.24 L421.25 1065.35 L422.08 1065.35 L422.08 1064.85 L422.92 1064.85 L422.92 1065.47 L423.75 1065.47 L423.75 1067.09 L424.58 1067.09 L424.58 1065.06 L425.42 1065.06 L425.42 1065.17 L426.25 1065.17 L426.25 1064.66 L427.08 1064.66 L427.08 1067.54 L427.92 1067.54 L427.92 1066.78 L428.75 1066.78 L428.75 1067.8 L429.58 1067.8 L429.58 1068.26 L430.42 1068.26 L430.42 1067.99 L431.25 1067.99 L431.25 1069.94 L432.08 1069.94 L432.08 1069.02 L432.92 1069.02 L432.92 1071.14 L433.75 1071.14 L433.75 1071.3 L434.58 1071.3 L434.58 1072.15 L435.42 1072.15 L435.42 1071.63 L436.25 1071.63 L436.25 1074.1 L437.08 1074.1 L437.08 1073.3 L437.92 1073.3 L437.92 1075.37 L438.75 1075.37 L438.75 1074.44 L439.58 1074.44 L439.58 1077.6 L440.42 1077.6 L440.42 1076.9 L441.25 1076.9 L441.25 1075.66 L442.08 1075.66 L442.08 1078.84 L442.92 1078.84 L442.92 1078.94 L443.75 1078.94 L443.75 1079.38 L444.58 1079.38 L444.58 1079.33 L445.42 1079.33 L445.42 1080.62 L446.25 1080.62 L446.25 1081.51 L447.08 1081.51 L447.08 1082.77 L447.92 1082.77 L447.92 1081.4 L448.75 1081.4 L448.75 1081.5 L449.58 1081.5 L449.58 1082.17 L450.42 1082.17 L450.42 1080.59 L451.25 1080.59 L451.25 1082.31 L452.08 1082.31 L452.08 1082 L452.92 1082 L452.92 1081.85 L453.75 1081.85 L453.75 1081.83 L454.58 1081.83 L454.58 1083.77 L455.42 1083.77 L455.42 1083.37 L456.25 1083.37 L456.25 1083.4 L457.08 1083.4 L457.08 1084 L457.92 1084 L457.92 1083.57 L458.75 1083.57 L458.75 1086.37 L459.58 1086.37 L459.58 1085.28 L460.42 1085.28 L460.42 1086.88 L461.25 1086.88 L461.25 1084.69 L462.08 1084.69 L462.08 1086.86 L462.92 1086.86 L462.92 1086.53 L463.75 1086.53 L463.75 1084.41 L464.58 1084.41 L464.58 1085.62 L465.42 1085.62 L465.42 1085.48 L466.25 1085.48 L466.25 1086.85 L467.08 1086.85 L467.08 1086.47 L467.92 1086.47 L467.92 1088.09 L468.75 1088.09 L468.75 1087.92 L469.58 1087.92 L469.58 1087.63 L470.42 1087.63 L470.42 1087.11 L471.25 1087.11 L471.25 1086.62 L472.08 1086.62 L472.08 1087.36 L472.92 1087.36 L472.92 1089.42 L473.75 1089.42 L473.75 1088.93 L474.69 1088.93 L474.69 1088.73 L475.62 1088.73 L475.62 1088.78 L476.56 1088.78 L476.56 1088.82 L477.5 1088.82 L477.5 1089.27 L478.33 1089.27 L478.33 1089.07 L479.17 1089.07 L479.17 1089.71 L480 1089.71 L480 1089.86 L480.83 1089.86 L480.83 1089.45 L481.67 1089.45 L481.67 1089.53 L482.5 1089.53 L482.5 1090" fill="none" stroke="#111" stroke-width="1.2"/>
<path d="M338.4 930.85 H503.45 V1090.1" fill="none" stroke="#383838" stroke-width="1.2"/>
<line x1="331.4" y1="930.85" x2="338.4" y2="930.85" stroke="#9a9a9a"/>
<line x1="334.1" y1="940.8" x2="338.4" y2="940.8" stroke="#c2c2c2"/>
<line x1="334.1" y1="950.76" x2="338.4" y2="950.76" stroke="#c2c2c2"/>
<line x1="334.1" y1="960.71" x2="338.4" y2="960.71" stroke="#c2c2c2"/>
<line x1="331.4" y1="970.66" x2="338.4" y2="970.66" stroke="#9a9a9a"/>
<line x1="334.1" y1="980.62" x2="338.4" y2="980.62" stroke="#c2c2c2"/>
<line x1="334.1" y1="990.57" x2="338.4" y2="990.57" stroke="#c2c2c2"/>
<line x1="334.1" y1="1000.52" x2="338.4" y2="1000.52" stroke="#c2c2c2"/>
<line x1="331.4" y1="1010.47" x2="338.4" y2="1010.47" stroke="#9a9a9a"/>
<line x1="334.1" y1="1020.43" x2="338.4" y2="1020.43" stroke="#c2c2c2"/>
<line x1="334.1" y1="1030.38" x2="338.4" y2="1030.38" stroke="#c2c2c2"/>
<line x1="334.1" y1="1040.33" x2="338.4" y2="1040.33" stroke="#c2c2c2"/>
<line x1="331.4" y1="1050.29" x2="338.4" y2="1050.29" stroke="#9a9a9a"/>
<line x1="334.1" y1="1060.24" x2="338.4" y2="1060.24" stroke="#c2c2c2"/>
<line x1="334.1" y1="1070.19" x2="338.4" y2="1070.19" stroke="#c2c2c2"/>
<line x1="334.1" y1="1080.15" x2="338.4" y2="1080.15" stroke="#c2c2c2"/>
<line x1="331.4" y1="1090.1" x2="338.4" y2="1090.1" stroke="#9a9a9a"/>
<line x1="338.4" y1="1090.1" x2="338.4" y2="1097.1" stroke="#9c9c9c"/>
<line x1="354.96" y1="1090.1" x2="354.96" y2="1094.7" stroke="#bcbcbc"/>
<line x1="364.65" y1="1090.1" x2="364.65" y2="1094.7" stroke="#bcbcbc"/>
<line x1="371.52" y1="1090.1" x2="371.52" y2="1094.7" stroke="#bcbcbc"/>
<line x1="376.85" y1="1090.1" x2="376.85" y2="1094.7" stroke="#bcbcbc"/>
<line x1="381.21" y1="1090.1" x2="381.21" y2="1094.7" stroke="#bcbcbc"/>
<line x1="384.89" y1="1090.1" x2="384.89" y2="1094.7" stroke="#bcbcbc"/>
<line x1="388.09" y1="1090.1" x2="388.09" y2="1094.7" stroke="#bcbcbc"/>
<line x1="390.9" y1="1090.1" x2="390.9" y2="1094.7" stroke="#bcbcbc"/>
<line x1="393.42" y1="1090.1" x2="393.42" y2="1097.1" stroke="#9c9c9c"/>
<line x1="409.98" y1="1090.1" x2="409.98" y2="1094.7" stroke="#bcbcbc"/>
<line x1="419.67" y1="1090.1" x2="419.67" y2="1094.7" stroke="#bcbcbc"/>
<line x1="426.54" y1="1090.1" x2="426.54" y2="1094.7" stroke="#bcbcbc"/>
<line x1="431.87" y1="1090.1" x2="431.87" y2="1094.7" stroke="#bcbcbc"/>
<line x1="436.23" y1="1090.1" x2="436.23" y2="1094.7" stroke="#bcbcbc"/>
<line x1="439.91" y1="1090.1" x2="439.91" y2="1094.7" stroke="#bcbcbc"/>
<line x1="443.1" y1="1090.1" x2="443.1" y2="1094.7" stroke="#bcbcbc"/>
<line x1="445.92" y1="1090.1" x2="445.92" y2="1094.7" stroke="#bcbcbc"/>
<line x1="448.43" y1="1090.1" x2="448.43" y2="1097.1" stroke="#9c9c9c"/>
<line x1="465" y1="1090.1" x2="465" y2="1094.7" stroke="#bcbcbc"/>
<line x1="474.68" y1="1090.1" x2="474.68" y2="1094.7" stroke="#bcbcbc"/>
<line x1="481.56" y1="1090.1" x2="481.56" y2="1094.7" stroke="#bcbcbc"/>
<line x1="486.89" y1="1090.1" x2="486.89" y2="1094.7" stroke="#bcbcbc"/>
<line x1="491.24" y1="1090.1" x2="491.24" y2="1094.7" stroke="#bcbcbc"/>
<line x1="494.93" y1="1090.1" x2="494.93" y2="1094.7" stroke="#bcbcbc"/>
<line x1="498.12" y1="1090.1" x2="498.12" y2="1094.7" stroke="#bcbcbc"/>
<line x1="500.93" y1="1090.1" x2="500.93" y2="1094.7" stroke="#bcbcbc"/>
<line x1="503.45" y1="1090.1" x2="503.45" y2="1097.1" stroke="#9c9c9c"/>
<path d="M338.4 930.35 V1090.1 H504.05" fill="none" stroke="#000" stroke-width="2.6"/>
<text font-size="16.5" fill="#000" x="303.76" y="936.6" textLength="25.6" lengthAdjust="spacingAndGlyphs">128</text>
<text font-size="16.5" fill="#000" x="312.31" y="976.41" textLength="17.07" lengthAdjust="spacingAndGlyphs">96</text>
<text font-size="16.5" fill="#000" x="312.08" y="1016.22" textLength="17.07" lengthAdjust="spacingAndGlyphs">64</text>
<text font-size="16.5" fill="#000" x="312.4" y="1056.04" textLength="17.07" lengthAdjust="spacingAndGlyphs">32</text>
<text font-size="16.5" fill="#000" x="320.77" y="1095.85" textLength="8.53" lengthAdjust="spacingAndGlyphs">0</text>
<text font-size="17.2" fill="#000" x="321.72" y="1122.9" textLength="17.6" lengthAdjust="spacingAndGlyphs">10</text>
<text font-size="12.75" fill="#000" x="338.43" y="1113" textLength="6.74" lengthAdjust="spacingAndGlyphs">0</text>
<text font-size="17.2" fill="#000" x="376.73" y="1122.9" textLength="17.6" lengthAdjust="spacingAndGlyphs">10</text>
<text font-size="12.75" fill="#000" x="392.99" y="1113" textLength="6.74" lengthAdjust="spacingAndGlyphs">1</text>
<text font-size="17.2" fill="#000" x="431.75" y="1122.9" textLength="17.6" lengthAdjust="spacingAndGlyphs">10</text>
<text font-size="12.75" fill="#000" x="448.32" y="1113" textLength="6.74" lengthAdjust="spacingAndGlyphs">2</text>
<text font-size="17.2" fill="#000" x="486.77" y="1122.9" textLength="17.6" lengthAdjust="spacingAndGlyphs">10</text>
<text font-size="12.75" fill="#000" x="503.49" y="1113" textLength="6.74" lengthAdjust="spacingAndGlyphs">3</text>
<g stroke="#000" fill="none">
<line x1="396.9" y1="1063" x2="503.45" y2="1063" stroke-width="2.6"/>
<line x1="396.9" y1="1053.5" x2="396.9" y2="1072.5" stroke-width="2.9"/>
<line x1="503.45" y1="1053.5" x2="503.45" y2="1072.5" stroke-width="2.9"/>
</g>
<text font-size="32" fill="#000" x="366.24" y="957.2" textLength="122.27" lengthAdjust="spacingAndGlyphs">PBL stim</text>
<text font-size="26" fill="#000" x="414.43" y="1056" textLength="49.45" lengthAdjust="spacingAndGlyphs">84%</text>
</g>
</svg>
</body></html>
